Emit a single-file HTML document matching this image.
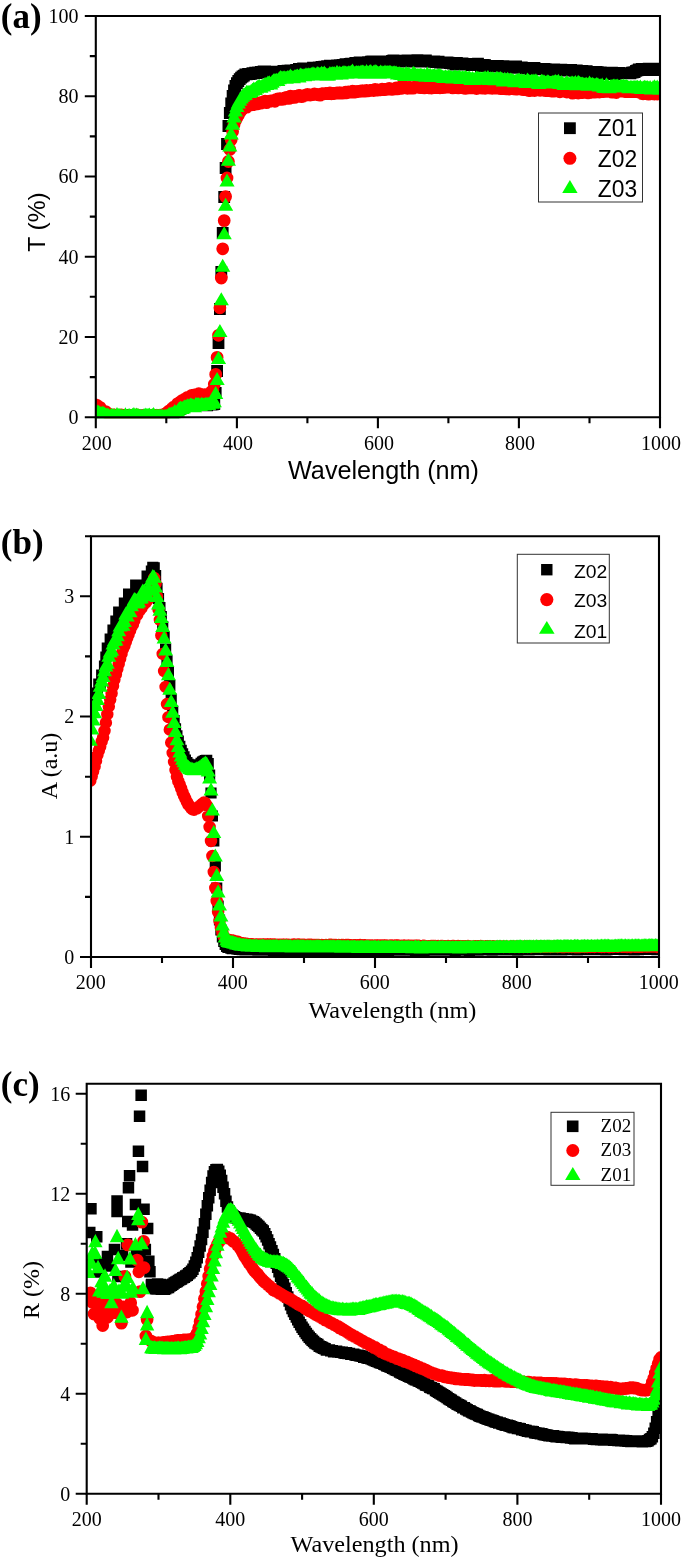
<!DOCTYPE html>
<html><head><meta charset="utf-8"><title>UV-Vis spectra</title>
<style>html,body{margin:0;padding:0;background:#fff}body{width:685px;height:1560px;overflow:hidden;font-family:"Liberation Sans",sans-serif}svg{display:block;will-change:transform}</style>
</head><body>
<svg width="685" height="1560" viewBox="0 0 685 1560">
<rect width="685" height="1560" fill="#fff"/>
<clipPath id="cpa"><rect x="95.8" y="16.0" width="564.2" height="402.2"/></clipPath>
<g clip-path="url(#cpa)">
<path fill="#000" d="M89.9 408.6h11.8v11.8h-11.8zM91.3 408.9h11.8v11.8h-11.8zM92.7 408.8h11.8v11.8h-11.8zM94.1 408.7h11.8v11.8h-11.8zM95.5 409.1h11.8v11.8h-11.8zM97 409.1h11.8v11.8h-11.8zM98.4 409.7h11.8v11.8h-11.8zM99.8 410.4h11.8v11.8h-11.8zM101.2 409.7h11.8v11.8h-11.8zM102.6 409.8h11.8v11.8h-11.8zM104 410.3h11.8v11.8h-11.8zM105.4 410.3h11.8v11.8h-11.8zM106.8 410.1h11.8v11.8h-11.8zM108.2 409.7h11.8v11.8h-11.8zM109.6 410.1h11.8v11.8h-11.8zM111.1 410.4h11.8v11.8h-11.8zM112.5 409.5h11.8v11.8h-11.8zM113.9 409.9h11.8v11.8h-11.8zM115.3 409.2h11.8v11.8h-11.8zM116.7 409.5h11.8v11.8h-11.8zM118.1 409.3h11.8v11.8h-11.8zM119.5 410h11.8v11.8h-11.8zM120.9 409.5h11.8v11.8h-11.8zM122.3 410.2h11.8v11.8h-11.8zM123.8 410.2h11.8v11.8h-11.8zM125.2 410h11.8v11.8h-11.8zM126.6 409h11.8v11.8h-11.8zM128 409.9h11.8v11.8h-11.8zM129.4 410.1h11.8v11.8h-11.8zM130.8 410.2h11.8v11.8h-11.8zM132.2 409.4h11.8v11.8h-11.8zM133.6 409.9h11.8v11.8h-11.8zM135 409.7h11.8v11.8h-11.8zM136.4 409.7h11.8v11.8h-11.8zM137.9 410.6h11.8v11.8h-11.8zM139.3 409.7h11.8v11.8h-11.8zM140.7 410.1h11.8v11.8h-11.8zM142.1 410.5h11.8v11.8h-11.8zM143.5 409.8h11.8v11.8h-11.8zM144.9 410h11.8v11.8h-11.8zM146.3 410.1h11.8v11.8h-11.8zM147.7 410.1h11.8v11.8h-11.8zM149.1 409.5h11.8v11.8h-11.8zM150.6 410.1h11.8v11.8h-11.8zM152 410.7h11.8v11.8h-11.8zM153.4 409.4h11.8v11.8h-11.8zM154.8 410.5h11.8v11.8h-11.8zM156.2 410.2h11.8v11.8h-11.8zM157.6 409.8h11.8v11.8h-11.8zM159 411h11.8v11.8h-11.8zM160.4 410.4h11.8v11.8h-11.8zM161.8 409.2h11.8v11.8h-11.8zM163.2 409.2h11.8v11.8h-11.8zM164.7 408.6h11.8v11.8h-11.8zM166.1 407.5h11.8v11.8h-11.8zM167.5 407.2h11.8v11.8h-11.8zM168.9 406.1h11.8v11.8h-11.8zM170.3 405.5h11.8v11.8h-11.8zM171.7 405h11.8v11.8h-11.8zM173.1 403.3h11.8v11.8h-11.8zM174.5 403h11.8v11.8h-11.8zM175.9 402h11.8v11.8h-11.8zM177.4 401.6h11.8v11.8h-11.8zM178.8 400.3h11.8v11.8h-11.8zM180.2 400h11.8v11.8h-11.8zM181.6 399.7h11.8v11.8h-11.8zM183 399.9h11.8v11.8h-11.8zM184.4 399.7h11.8v11.8h-11.8zM185.8 398.3h11.8v11.8h-11.8zM187.2 398.4h11.8v11.8h-11.8zM188.6 399h11.8v11.8h-11.8zM190 397.8h11.8v11.8h-11.8zM191.5 398.5h11.8v11.8h-11.8zM192.9 398.7h11.8v11.8h-11.8zM194.3 399.3h11.8v11.8h-11.8zM195.7 399h11.8v11.8h-11.8zM197.1 398.6h11.8v11.8h-11.8zM198.5 398.5h11.8v11.8h-11.8zM199.9 398.6h11.8v11.8h-11.8zM201.3 399.4h11.8v11.8h-11.8zM202.7 398.5h11.8v11.8h-11.8zM204.2 398.4h11.8v11.8h-11.8zM205.6 398.7h11.8v11.8h-11.8zM207 398.4h11.8v11.8h-11.8zM208.4 398.1h11.8v11.8h-11.8zM209.8 387.1h11.8v11.8h-11.8zM211.2 365.1h11.8v11.8h-11.8zM212.6 337.1h11.8v11.8h-11.8zM214 303.1h11.8v11.8h-11.8zM215.4 266.1h11.8v11.8h-11.8zM216.8 227.1h11.8v11.8h-11.8zM218.3 191.1h11.8v11.8h-11.8zM219.7 162.1h11.8v11.8h-11.8zM221.1 138.1h11.8v11.8h-11.8zM222.5 120.1h11.8v11.8h-11.8zM223.9 107.1h11.8v11.8h-11.8zM225.3 97.6h11.8v11.8h-11.8zM226.7 90.1h11.8v11.8h-11.8zM228.1 84.6h11.8v11.8h-11.8zM229.5 80.1h11.8v11.8h-11.8zM231 77.3h11.8v11.8h-11.8zM232.4 75.1h11.8v11.8h-11.8zM233.8 73.3h11.8v11.8h-11.8zM235.2 71.8h11.8v11.8h-11.8zM236.6 70.6h11.8v11.8h-11.8zM238 69.7h11.8v11.8h-11.8zM239.4 68.5h11.8v11.8h-11.8zM240.8 68.5h11.8v11.8h-11.8zM242.2 67.9h11.8v11.8h-11.8zM243.6 68.3h11.8v11.8h-11.8zM245.1 67.9h11.8v11.8h-11.8zM246.5 67.3h11.8v11.8h-11.8zM247.9 67.4h11.8v11.8h-11.8zM249.3 66.8h11.8v11.8h-11.8zM250.7 67.3h11.8v11.8h-11.8zM252.1 66.6h11.8v11.8h-11.8zM253.5 66.8h11.8v11.8h-11.8zM254.9 65.9h11.8v11.8h-11.8zM256.3 66.5h11.8v11.8h-11.8zM257.7 65.6h11.8v11.8h-11.8zM259.2 65.4h11.8v11.8h-11.8zM260.6 66.1h11.8v11.8h-11.8zM262 65.8h11.8v11.8h-11.8zM263.4 66.2h11.8v11.8h-11.8zM264.8 67.1h11.8v11.8h-11.8zM266.2 65.7h11.8v11.8h-11.8zM267.6 65.8h11.8v11.8h-11.8zM269 66.1h11.8v11.8h-11.8zM270.4 66.2h11.8v11.8h-11.8zM271.9 65.8h11.8v11.8h-11.8zM273.3 65.7h11.8v11.8h-11.8zM274.7 66.1h11.8v11.8h-11.8zM276.1 65.9h11.8v11.8h-11.8zM277.5 65.1h11.8v11.8h-11.8zM278.9 65.4h11.8v11.8h-11.8zM280.3 65.4h11.8v11.8h-11.8zM281.7 64.7h11.8v11.8h-11.8zM283.1 65.2h11.8v11.8h-11.8zM284.5 64.5h11.8v11.8h-11.8zM286 65.2h11.8v11.8h-11.8zM287.4 64.7h11.8v11.8h-11.8zM288.8 64.5h11.8v11.8h-11.8zM290.2 64.1h11.8v11.8h-11.8zM291.6 64.1h11.8v11.8h-11.8zM293 63.1h11.8v11.8h-11.8zM294.4 63.4h11.8v11.8h-11.8zM295.8 63.9h11.8v11.8h-11.8zM297.2 62.6h11.8v11.8h-11.8zM298.7 63.8h11.8v11.8h-11.8zM300.1 62.5h11.8v11.8h-11.8zM301.5 63.4h11.8v11.8h-11.8zM302.9 62.5h11.8v11.8h-11.8zM304.3 63.1h11.8v11.8h-11.8zM305.7 62.6h11.8v11.8h-11.8zM307.1 61.7h11.8v11.8h-11.8zM308.5 62.8h11.8v11.8h-11.8zM309.9 62.7h11.8v11.8h-11.8zM311.3 61.8h11.8v11.8h-11.8zM312.8 61.6h11.8v11.8h-11.8zM314.2 61.5h11.8v11.8h-11.8zM315.6 60.9h11.8v11.8h-11.8zM317 61.7h11.8v11.8h-11.8zM318.4 60.8h11.8v11.8h-11.8zM319.8 60.8h11.8v11.8h-11.8zM321.2 60.3h11.8v11.8h-11.8zM322.6 60.3h11.8v11.8h-11.8zM324 59.8h11.8v11.8h-11.8zM325.5 60.8h11.8v11.8h-11.8zM326.9 60h11.8v11.8h-11.8zM328.3 60.4h11.8v11.8h-11.8zM329.7 59.8h11.8v11.8h-11.8zM331.1 59.4h11.8v11.8h-11.8zM332.5 59.4h11.8v11.8h-11.8zM333.9 59.2h11.8v11.8h-11.8zM335.3 59.3h11.8v11.8h-11.8zM336.7 59h11.8v11.8h-11.8zM338.1 58.9h11.8v11.8h-11.8zM339.6 58.2h11.8v11.8h-11.8zM341 58.3h11.8v11.8h-11.8zM342.4 59.3h11.8v11.8h-11.8zM343.8 58.1h11.8v11.8h-11.8zM345.2 57.8h11.8v11.8h-11.8zM346.6 58.2h11.8v11.8h-11.8zM348 58.6h11.8v11.8h-11.8zM349.4 57.1h11.8v11.8h-11.8zM350.8 57.6h11.8v11.8h-11.8zM352.3 57.2h11.8v11.8h-11.8zM353.7 56.6h11.8v11.8h-11.8zM355.1 57.5h11.8v11.8h-11.8zM356.5 57.1h11.8v11.8h-11.8zM357.9 57h11.8v11.8h-11.8zM359.3 56.5h11.8v11.8h-11.8zM360.7 56.9h11.8v11.8h-11.8zM362.1 56.3h11.8v11.8h-11.8zM363.5 56.4h11.8v11.8h-11.8zM364.9 55.8h11.8v11.8h-11.8zM366.4 55.6h11.8v11.8h-11.8zM367.8 56.7h11.8v11.8h-11.8zM369.2 55.8h11.8v11.8h-11.8zM370.6 56h11.8v11.8h-11.8zM372 55.8h11.8v11.8h-11.8zM373.4 55.6h11.8v11.8h-11.8zM374.8 55.5h11.8v11.8h-11.8zM376.2 55.9h11.8v11.8h-11.8zM377.6 55.5h11.8v11.8h-11.8zM379.1 55.5h11.8v11.8h-11.8zM380.5 55.5h11.8v11.8h-11.8zM381.9 56h11.8v11.8h-11.8zM383.3 55.7h11.8v11.8h-11.8zM384.7 55.5h11.8v11.8h-11.8zM386.1 55.1h11.8v11.8h-11.8zM387.5 54.6h11.8v11.8h-11.8zM388.9 55.6h11.8v11.8h-11.8zM390.3 55.6h11.8v11.8h-11.8zM391.7 55.1h11.8v11.8h-11.8zM393.2 55.3h11.8v11.8h-11.8zM394.6 55.4h11.8v11.8h-11.8zM396 55.4h11.8v11.8h-11.8zM397.4 55.4h11.8v11.8h-11.8zM398.8 54.8h11.8v11.8h-11.8zM400.2 55.6h11.8v11.8h-11.8zM401.6 54.4h11.8v11.8h-11.8zM403 55.3h11.8v11.8h-11.8zM404.4 55.1h11.8v11.8h-11.8zM405.9 55.3h11.8v11.8h-11.8zM407.3 55.7h11.8v11.8h-11.8zM408.7 55.6h11.8v11.8h-11.8zM410.1 54.4h11.8v11.8h-11.8zM411.5 54.2h11.8v11.8h-11.8zM412.9 55.4h11.8v11.8h-11.8zM414.3 54.6h11.8v11.8h-11.8zM415.7 55.1h11.8v11.8h-11.8zM417.1 55.6h11.8v11.8h-11.8zM418.5 54.6h11.8v11.8h-11.8zM420 54.5h11.8v11.8h-11.8zM421.4 55.6h11.8v11.8h-11.8zM422.8 55.7h11.8v11.8h-11.8zM424.2 55.6h11.8v11.8h-11.8zM425.6 55.9h11.8v11.8h-11.8zM427 55.6h11.8v11.8h-11.8zM428.4 55.4h11.8v11.8h-11.8zM429.8 56.1h11.8v11.8h-11.8zM431.2 55.9h11.8v11.8h-11.8zM432.7 55.7h11.8v11.8h-11.8zM434.1 56.8h11.8v11.8h-11.8zM435.5 56.6h11.8v11.8h-11.8zM436.9 56.9h11.8v11.8h-11.8zM438.3 56.4h11.8v11.8h-11.8zM439.7 56.6h11.8v11.8h-11.8zM441.1 56.6h11.8v11.8h-11.8zM442.5 56.7h11.8v11.8h-11.8zM443.9 57.3h11.8v11.8h-11.8zM445.3 57h11.8v11.8h-11.8zM446.8 57.6h11.8v11.8h-11.8zM448.2 57.7h11.8v11.8h-11.8zM449.6 58.6h11.8v11.8h-11.8zM451 57.1h11.8v11.8h-11.8zM452.4 58.3h11.8v11.8h-11.8zM453.8 57.9h11.8v11.8h-11.8zM455.2 58.1h11.8v11.8h-11.8zM456.6 57.5h11.8v11.8h-11.8zM458 58.1h11.8v11.8h-11.8zM459.5 58.7h11.8v11.8h-11.8zM460.9 58.4h11.8v11.8h-11.8zM462.3 58.6h11.8v11.8h-11.8zM463.7 58.5h11.8v11.8h-11.8zM465.1 59.3h11.8v11.8h-11.8zM466.5 58.9h11.8v11.8h-11.8zM467.9 58h11.8v11.8h-11.8zM469.3 58.8h11.8v11.8h-11.8zM470.7 58.3h11.8v11.8h-11.8zM472.1 57.8h11.8v11.8h-11.8zM473.6 59.1h11.8v11.8h-11.8zM475 60.1h11.8v11.8h-11.8zM476.4 59.6h11.8v11.8h-11.8zM477.8 59.1h11.8v11.8h-11.8zM479.2 59.3h11.8v11.8h-11.8zM480.6 60.3h11.8v11.8h-11.8zM482 60h11.8v11.8h-11.8zM483.4 60h11.8v11.8h-11.8zM484.8 60.1h11.8v11.8h-11.8zM486.3 60.2h11.8v11.8h-11.8zM487.7 60.6h11.8v11.8h-11.8zM489.1 60.6h11.8v11.8h-11.8zM490.5 60.5h11.8v11.8h-11.8zM491.9 60.1h11.8v11.8h-11.8zM493.3 60.8h11.8v11.8h-11.8zM494.7 60.4h11.8v11.8h-11.8zM496.1 61.3h11.8v11.8h-11.8zM497.5 60.3h11.8v11.8h-11.8zM498.9 60.9h11.8v11.8h-11.8zM500.4 61h11.8v11.8h-11.8zM501.8 60.5h11.8v11.8h-11.8zM503.2 62h11.8v11.8h-11.8zM504.6 61.9h11.8v11.8h-11.8zM506 61.2h11.8v11.8h-11.8zM507.4 61.8h11.8v11.8h-11.8zM508.8 61.7h11.8v11.8h-11.8zM510.2 60.5h11.8v11.8h-11.8zM511.6 61.8h11.8v11.8h-11.8zM513.1 61.8h11.8v11.8h-11.8zM514.5 61.9h11.8v11.8h-11.8zM515.9 61.5h11.8v11.8h-11.8zM517.3 61.9h11.8v11.8h-11.8zM518.7 62h11.8v11.8h-11.8zM520.1 62.7h11.8v11.8h-11.8zM521.5 62.4h11.8v11.8h-11.8zM522.9 62.4h11.8v11.8h-11.8zM524.3 63.1h11.8v11.8h-11.8zM525.7 62.3h11.8v11.8h-11.8zM527.2 62.4h11.8v11.8h-11.8zM528.6 61.9h11.8v11.8h-11.8zM530 63.5h11.8v11.8h-11.8zM531.4 63.3h11.8v11.8h-11.8zM532.8 63.4h11.8v11.8h-11.8zM534.2 63.3h11.8v11.8h-11.8zM535.6 63.2h11.8v11.8h-11.8zM537 63.3h11.8v11.8h-11.8zM538.4 63.1h11.8v11.8h-11.8zM539.8 63.3h11.8v11.8h-11.8zM541.3 63.4h11.8v11.8h-11.8zM542.7 64.2h11.8v11.8h-11.8zM544.1 63.8h11.8v11.8h-11.8zM545.5 63.6h11.8v11.8h-11.8zM546.9 63.5h11.8v11.8h-11.8zM548.3 63.5h11.8v11.8h-11.8zM549.7 64.6h11.8v11.8h-11.8zM551.1 64.2h11.8v11.8h-11.8zM552.5 64h11.8v11.8h-11.8zM554 63.9h11.8v11.8h-11.8zM555.4 63.7h11.8v11.8h-11.8zM556.8 64.2h11.8v11.8h-11.8zM558.2 64.7h11.8v11.8h-11.8zM559.6 64.2h11.8v11.8h-11.8zM561 64.3h11.8v11.8h-11.8zM562.4 64.4h11.8v11.8h-11.8zM563.8 64.6h11.8v11.8h-11.8zM565.2 64h11.8v11.8h-11.8zM566.6 64.6h11.8v11.8h-11.8zM568.1 64.4h11.8v11.8h-11.8zM569.5 65.3h11.8v11.8h-11.8zM570.9 64.6h11.8v11.8h-11.8zM572.3 65.3h11.8v11.8h-11.8zM573.7 65.9h11.8v11.8h-11.8zM575.1 65.1h11.8v11.8h-11.8zM576.5 65.1h11.8v11.8h-11.8zM577.9 65.6h11.8v11.8h-11.8zM579.3 65.6h11.8v11.8h-11.8zM580.8 65.3h11.8v11.8h-11.8zM582.2 66.1h11.8v11.8h-11.8zM583.6 66.9h11.8v11.8h-11.8zM585 66h11.8v11.8h-11.8zM586.4 66.2h11.8v11.8h-11.8zM587.8 65.9h11.8v11.8h-11.8zM589.2 66.7h11.8v11.8h-11.8zM590.6 66.1h11.8v11.8h-11.8zM592 66.3h11.8v11.8h-11.8zM593.4 67.5h11.8v11.8h-11.8zM594.9 66.6h11.8v11.8h-11.8zM596.3 67.6h11.8v11.8h-11.8zM597.7 67.9h11.8v11.8h-11.8zM599.1 67.4h11.8v11.8h-11.8zM600.5 67.6h11.8v11.8h-11.8zM601.9 68.2h11.8v11.8h-11.8zM603.3 67.3h11.8v11.8h-11.8zM604.7 67.1h11.8v11.8h-11.8zM606.1 66.8h11.8v11.8h-11.8zM607.6 67.4h11.8v11.8h-11.8zM609 68.1h11.8v11.8h-11.8zM610.4 67.8h11.8v11.8h-11.8zM611.8 67h11.8v11.8h-11.8zM613.2 67h11.8v11.8h-11.8zM614.6 67.2h11.8v11.8h-11.8zM616 67.5h11.8v11.8h-11.8zM617.4 67.3h11.8v11.8h-11.8zM618.8 67.5h11.8v11.8h-11.8zM620.2 67.5h11.8v11.8h-11.8zM621.7 67.2h11.8v11.8h-11.8zM623.1 67.3h11.8v11.8h-11.8zM624.5 67.4h11.8v11.8h-11.8zM625.9 66.8h11.8v11.8h-11.8zM627.3 66.4h11.8v11.8h-11.8zM628.7 66.2h11.8v11.8h-11.8zM630.1 65h11.8v11.8h-11.8zM631.5 64.5h11.8v11.8h-11.8zM632.9 63.5h11.8v11.8h-11.8zM634.4 64.2h11.8v11.8h-11.8zM635.8 63h11.8v11.8h-11.8zM637.2 63.2h11.8v11.8h-11.8zM638.6 64.1h11.8v11.8h-11.8zM640 64h11.8v11.8h-11.8zM641.4 63.5h11.8v11.8h-11.8zM642.8 62.7h11.8v11.8h-11.8zM644.2 63.3h11.8v11.8h-11.8zM645.6 63.1h11.8v11.8h-11.8zM647 63.6h11.8v11.8h-11.8zM648.5 64.3h11.8v11.8h-11.8zM649.9 63.3h11.8v11.8h-11.8zM651.3 62.9h11.8v11.8h-11.8zM652.7 62.7h11.8v11.8h-11.8zM654.1 63.2h11.8v11.8h-11.8z"/>
<path fill="none" stroke="#ff0000" stroke-width="12.8" stroke-linecap="round" d="M95.8 404.9h0M97.2 405.5h0M98.6 407.1h0M100 407.4h0M101.4 409.5h0M102.9 410.5h0M104.3 411.4h0M105.7 411.6h0M107.1 413h0M108.5 413.8h0M109.9 414.6h0M111.3 415.2h0M112.7 414.9h0M114.1 414.8h0M115.5 416h0M117 415.5h0M118.4 415.8h0M119.8 416.2h0M121.2 414.8h0M122.6 415.3h0M124 415.9h0M125.4 416h0M126.8 415.6h0M128.2 416.3h0M129.7 416h0M131.1 415.3h0M132.5 415.4h0M133.9 416.3h0M135.3 416.1h0M136.7 415h0M138.1 416.6h0M139.5 416.2h0M140.9 416.6h0M142.3 415.8h0M143.8 415.8h0M145.2 415.4h0M146.6 417.2h0M148 415.9h0M149.4 416.8h0M150.8 415.7h0M152.2 416.1h0M153.6 415.2h0M155 415.8h0M156.5 416.5h0M157.9 415.4h0M159.3 416.5h0M160.7 416.1h0M162.1 415h0M163.5 414.6h0M164.9 413.9h0M166.3 413.3h0M167.7 412.1h0M169.1 410.9h0M170.6 410h0M172 408.5h0M173.4 407.2h0M174.8 406.7h0M176.2 406h0M177.6 403.6h0M179 403.2h0M180.4 401.9h0M181.8 400.7h0M183.3 400.7h0M184.7 399.1h0M186.1 399.3h0M187.5 397.4h0M188.9 397.2h0M190.3 396.3h0M191.7 395.4h0M193.1 395.5h0M194.5 394.8h0M195.9 394.9h0M197.4 394.3h0M198.8 393.7h0M200.2 394.2h0M201.6 394.6h0M203 395.3h0M204.4 394.6h0M205.8 395.2h0M207.2 394.4h0M208.6 395.1h0M210.1 393.4h0M211.5 391.5h0M212.9 390h0M214.3 384.3h0M215.7 374.4h0M217.1 357.4h0M218.5 335.3h0M219.9 307.8h0M221.3 278h0M222.7 248.8h0M224.2 220.6h0M225.6 196.6h0M227 178h0M228.4 161.5h0M229.8 149.5h0M231.2 139.6h0M232.6 131.5h0M234 125h0M235.4 121h0M236.9 118h0M238.3 115.2h0M239.7 112.8h0M241.1 110.8h0M242.5 109.2h0M243.9 108h0M245.3 107h0M246.7 107.1h0M248.1 105.3h0M249.5 105.1h0M251 104.9h0M252.4 104.3h0M253.8 104.7h0M255.2 103.8h0M256.6 103.5h0M258 103.8h0M259.4 102.8h0M260.8 103.1h0M262.2 102.1h0M263.6 101.7h0M265.1 101.1h0M266.5 102.7h0M267.9 101.3h0M269.3 101.4h0M270.7 101h0M272.1 100.9h0M273.5 100.6h0M274.9 101.3h0M276.3 99.5h0M277.8 99h0M279.2 99h0M280.6 98.6h0M282 99.4h0M283.4 99.2h0M284.8 98h0M286.2 97.5h0M287.6 97.8h0M289 98.4h0M290.4 96.1h0M291.9 97.6h0M293.3 96.6h0M294.7 97.4h0M296.1 96.2h0M297.5 96.4h0M298.9 95.5h0M300.3 95.6h0M301.7 96.6h0M303.1 96.2h0M304.6 95.4h0M306 95h0M307.4 94.3h0M308.8 94.9h0M310.2 95h0M311.6 94.8h0M313 94.7h0M314.4 94h0M315.8 94.4h0M317.2 94.3h0M318.7 94.9h0M320.1 95.1h0M321.5 94h0M322.9 93.6h0M324.3 93.8h0M325.7 93.5h0M327.1 93.3h0M328.5 93.6h0M329.9 93h0M331.4 93.8h0M332.8 93.4h0M334.2 93.5h0M335.6 93.3h0M337 93h0M338.4 92.8h0M339.8 93.1h0M341.2 92.9h0M342.6 93.2h0M344 92.9h0M345.5 92.2h0M346.9 92.8h0M348.3 91.9h0M349.7 92.2h0M351.1 92.2h0M352.5 91.2h0M353.9 92.1h0M355.3 92h0M356.7 91.7h0M358.2 91.5h0M359.6 91.4h0M361 90.9h0M362.4 91.2h0M363.8 90.9h0M365.2 91.1h0M366.6 90.3h0M368 90.9h0M369.4 90.7h0M370.8 90.4h0M372.3 90.1h0M373.7 90.5h0M375.1 89.3h0M376.5 90.2h0M377.9 90h0M379.3 89.9h0M380.7 89.8h0M382.1 89.2h0M383.5 89.3h0M385 89.6h0M386.4 89.4h0M387.8 89.2h0M389.2 88.3h0M390.6 89.2h0M392 89.4h0M393.4 89.2h0M394.8 88.8h0M396.2 87.8h0M397.6 88.9h0M399.1 88.3h0M400.5 87h0M401.9 88.3h0M403.3 87.3h0M404.7 87.2h0M406.1 87.4h0M407.5 88.3h0M408.9 87.3h0M410.3 87.5h0M411.8 88.2h0M413.2 88.1h0M414.6 87.2h0M416 87.2h0M417.4 86.7h0M418.8 87h0M420.2 87.6h0M421.6 87.6h0M423 87.4h0M424.4 87.9h0M425.9 87h0M427.3 87.4h0M428.7 87.8h0M430.1 87.7h0M431.5 88h0M432.9 87.7h0M434.3 87.3h0M435.7 87.7h0M437.1 87h0M438.6 86.7h0M440 87.8h0M441.4 87.5h0M442.8 87.7h0M444.2 86.7h0M445.6 87.3h0M447 87.2h0M448.4 87.1h0M449.8 86.4h0M451.2 87.3h0M452.7 87.9h0M454.1 87.7h0M455.5 87.2h0M456.9 87.5h0M458.3 87.9h0M459.7 86.1h0M461.1 87.4h0M462.5 87.8h0M463.9 87.8h0M465.4 88.4h0M466.8 88.1h0M468.2 87.7h0M469.6 87.7h0M471 87.9h0M472.4 87.2h0M473.8 87.5h0M475.2 88h0M476.6 88.5h0M478 87.4h0M479.5 87.5h0M480.9 87.6h0M482.3 88.2h0M483.7 87.5h0M485.1 88.3h0M486.5 87.1h0M487.9 87.5h0M489.3 87.5h0M490.7 88.1h0M492.2 88.3h0M493.6 87h0M495 87.4h0M496.4 88.1h0M497.8 87.6h0M499.2 87.3h0M500.6 88.6h0M502 88.4h0M503.4 88.5h0M504.8 88h0M506.3 88.9h0M507.7 88.3h0M509.1 89h0M510.5 88.1h0M511.9 88.2h0M513.3 88.8h0M514.7 88.4h0M516.1 89.1h0M517.5 89h0M519 88.5h0M520.4 89h0M521.8 88.9h0M523.2 89.6h0M524.6 88.9h0M526 89.1h0M527.4 90h0M528.8 90.5h0M530.2 90.5h0M531.6 89.6h0M533.1 89.8h0M534.5 90.5h0M535.9 89.8h0M537.3 89.4h0M538.7 90h0M540.1 90.3h0M541.5 89.7h0M542.9 89.4h0M544.3 89.5h0M545.7 90.7h0M547.2 90h0M548.6 90.4h0M550 90.7h0M551.4 91h0M552.8 90.6h0M554.2 91.1h0M555.6 90.5h0M557 90.9h0M558.4 90.6h0M559.9 91.8h0M561.3 91.3h0M562.7 91.1h0M564.1 91.3h0M565.5 91.5h0M566.9 92h0M568.3 90.9h0M569.7 91.3h0M571.1 91.7h0M572.5 93.2h0M574 92.4h0M575.4 91.9h0M576.8 92.3h0M578.2 93h0M579.6 91.9h0M581 91.8h0M582.4 92.6h0M583.8 92.2h0M585.2 92.3h0M586.7 91.7h0M588.1 92.9h0M589.5 92.7h0M590.9 92.1h0M592.3 92.1h0M593.7 90.8h0M595.1 92.1h0M596.5 91.6h0M597.9 91.9h0M599.3 92h0M600.8 91.4h0M602.2 90.7h0M603.6 91.7h0M605 91.2h0M606.4 91.4h0M607.8 91.2h0M609.2 91.3h0M610.6 90.3h0M612 92.1h0M613.5 91.6h0M614.9 92.1h0M616.3 92.5h0M617.7 91.5h0M619.1 90.6h0M620.5 91.1h0M621.9 90.9h0M623.3 91.2h0M624.7 91.5h0M626.1 90.5h0M627.6 91.7h0M629 90.7h0M630.4 91.7h0M631.8 91.5h0M633.2 91.5h0M634.6 91.7h0M636 91.6h0M637.4 91.8h0M638.8 91.4h0M640.3 92.4h0M641.7 93.5h0M643.1 93.8h0M644.5 93.6h0M645.9 93.4h0M647.3 92.9h0M648.7 94.2h0M650.1 93.6h0M651.5 93.7h0M652.9 93.8h0M654.4 94h0M655.8 93.8h0M657.2 94h0M658.6 93.5h0M660 93.8h0"/>
<path fill="#00ff00" d="M95.8 405.7l7.6 13h-15.2zM97.2 404.5l7.6 13h-15.2zM98.6 404.8l7.6 13h-15.2zM100 405.8l7.6 13h-15.2zM101.4 406.3l7.6 13h-15.2zM102.9 405.4l7.6 13h-15.2zM104.3 406.4l7.6 13h-15.2zM105.7 407.6l7.6 13h-15.2zM107.1 407.6l7.6 13h-15.2zM108.5 407.9l7.6 13h-15.2zM109.9 409.2l7.6 13h-15.2zM111.3 407.8l7.6 13h-15.2zM112.7 408.4l7.6 13h-15.2zM114.1 408l7.6 13h-15.2zM115.5 409.4l7.6 13h-15.2zM117 407l7.6 13h-15.2zM118.4 407.9l7.6 13h-15.2zM119.8 408l7.6 13h-15.2zM121.2 408.8l7.6 13h-15.2zM122.6 408.8l7.6 13h-15.2zM124 409.4l7.6 13h-15.2zM125.4 407.3l7.6 13h-15.2zM126.8 408.9l7.6 13h-15.2zM128.2 408.2l7.6 13h-15.2zM129.7 408l7.6 13h-15.2zM131.1 408.8l7.6 13h-15.2zM132.5 407.8l7.6 13h-15.2zM133.9 407l7.6 13h-15.2zM135.3 408.2l7.6 13h-15.2zM136.7 407.4l7.6 13h-15.2zM138.1 408l7.6 13h-15.2zM139.5 408.7l7.6 13h-15.2zM140.9 408.7l7.6 13h-15.2zM142.3 409.6l7.6 13h-15.2zM143.8 408.3l7.6 13h-15.2zM145.2 407.4l7.6 13h-15.2zM146.6 408l7.6 13h-15.2zM148 407.8l7.6 13h-15.2zM149.4 407.6l7.6 13h-15.2zM150.8 408.8l7.6 13h-15.2zM152.2 408l7.6 13h-15.2zM153.6 407.1l7.6 13h-15.2zM155 409l7.6 13h-15.2zM156.5 408.4l7.6 13h-15.2zM157.9 408.7l7.6 13h-15.2zM159.3 408.6l7.6 13h-15.2zM160.7 408.9l7.6 13h-15.2zM162.1 408.5l7.6 13h-15.2zM163.5 409.4l7.6 13h-15.2zM164.9 408.8l7.6 13h-15.2zM166.3 408.8l7.6 13h-15.2zM167.7 408.5l7.6 13h-15.2zM169.1 406.7l7.6 13h-15.2zM170.6 407l7.6 13h-15.2zM172 406.3l7.6 13h-15.2zM173.4 406l7.6 13h-15.2zM174.8 404.1l7.6 13h-15.2zM176.2 405.3l7.6 13h-15.2zM177.6 403.4l7.6 13h-15.2zM179 401.7l7.6 13h-15.2zM180.4 400.6l7.6 13h-15.2zM181.8 400.9l7.6 13h-15.2zM183.3 400.3l7.6 13h-15.2zM184.7 399.2l7.6 13h-15.2zM186.1 399.2l7.6 13h-15.2zM187.5 398.2l7.6 13h-15.2zM188.9 398.7l7.6 13h-15.2zM190.3 397.5l7.6 13h-15.2zM191.7 397.7l7.6 13h-15.2zM193.1 398.2l7.6 13h-15.2zM194.5 399.3l7.6 13h-15.2zM195.9 396.8l7.6 13h-15.2zM197.4 397.2l7.6 13h-15.2zM198.8 396.9l7.6 13h-15.2zM200.2 398l7.6 13h-15.2zM201.6 396.7l7.6 13h-15.2zM203 397.2l7.6 13h-15.2zM204.4 397.5l7.6 13h-15.2zM205.8 396.8l7.6 13h-15.2zM207.2 396.8l7.6 13h-15.2zM208.6 397.1l7.6 13h-15.2zM210.1 395.7l7.6 13h-15.2zM211.5 395.8l7.6 13h-15.2zM212.9 395.5l7.6 13h-15.2zM214.3 394.3l7.6 13h-15.2zM215.7 386l7.6 13h-15.2zM217.1 372l7.6 13h-15.2zM218.5 350.9l7.6 13h-15.2zM219.9 323.9l7.6 13h-15.2zM221.3 292.3l7.6 13h-15.2zM222.7 258.8l7.6 13h-15.2zM224.2 226.2l7.6 13h-15.2zM225.6 197.7l7.6 13h-15.2zM227 173.6l7.6 13h-15.2zM228.4 152.8l7.6 13h-15.2zM229.8 138.6l7.6 13h-15.2zM231.2 126.5l7.6 13h-15.2zM232.6 116.7l7.6 13h-15.2zM234 109.5l7.6 13h-15.2zM235.4 103.5l7.6 13h-15.2zM236.9 99l7.6 13h-15.2zM238.3 95.5l7.6 13h-15.2zM239.7 92.7l7.6 13h-15.2zM241.1 90.5l7.6 13h-15.2zM242.5 88.7l7.6 13h-15.2zM243.9 87.3l7.6 13h-15.2zM245.3 86.7l7.6 13h-15.2zM246.7 84.8l7.6 13h-15.2zM248.1 84.8l7.6 13h-15.2zM249.5 84.9l7.6 13h-15.2zM251 84l7.6 13h-15.2zM252.4 82.8l7.6 13h-15.2zM253.8 81.5l7.6 13h-15.2zM255.2 81.9l7.6 13h-15.2zM256.6 80.4l7.6 13h-15.2zM258 79.3l7.6 13h-15.2zM259.4 78.9l7.6 13h-15.2zM260.8 79.8l7.6 13h-15.2zM262.2 78.4l7.6 13h-15.2zM263.6 78.4l7.6 13h-15.2zM265.1 76.7l7.6 13h-15.2zM266.5 77.1l7.6 13h-15.2zM267.9 75.4l7.6 13h-15.2zM269.3 75.2l7.6 13h-15.2zM270.7 76.5l7.6 13h-15.2zM272.1 74.7l7.6 13h-15.2zM273.5 73.3l7.6 13h-15.2zM274.9 73.1l7.6 13h-15.2zM276.3 72.8l7.6 13h-15.2zM277.8 72.9l7.6 13h-15.2zM279.2 71.2l7.6 13h-15.2zM280.6 69.9l7.6 13h-15.2zM282 70.6l7.6 13h-15.2zM283.4 70.5l7.6 13h-15.2zM284.8 70.3l7.6 13h-15.2zM286.2 70.8l7.6 13h-15.2zM287.6 69.9l7.6 13h-15.2zM289 70l7.6 13h-15.2zM290.4 68.5l7.6 13h-15.2zM291.9 69.7l7.6 13h-15.2zM293.3 70.3l7.6 13h-15.2zM294.7 69.2l7.6 13h-15.2zM296.1 68.7l7.6 13h-15.2zM297.5 68.5l7.6 13h-15.2zM298.9 69.5l7.6 13h-15.2zM300.3 67.5l7.6 13h-15.2zM301.7 67.9l7.6 13h-15.2zM303.1 68.2l7.6 13h-15.2zM304.6 68.3l7.6 13h-15.2zM306 67.3l7.6 13h-15.2zM307.4 67.7l7.6 13h-15.2zM308.8 67.2l7.6 13h-15.2zM310.2 67.4l7.6 13h-15.2zM311.6 67.1l7.6 13h-15.2zM313 66.3l7.6 13h-15.2zM314.4 67l7.6 13h-15.2zM315.8 67.5l7.6 13h-15.2zM317.2 66.1l7.6 13h-15.2zM318.7 66.5l7.6 13h-15.2zM320.1 67.1l7.6 13h-15.2zM321.5 65.8l7.6 13h-15.2zM322.9 66.6l7.6 13h-15.2zM324.3 65.6l7.6 13h-15.2zM325.7 67.1l7.6 13h-15.2zM327.1 67.8l7.6 13h-15.2zM328.5 67.5l7.6 13h-15.2zM329.9 65.9l7.6 13h-15.2zM331.4 66.5l7.6 13h-15.2zM332.8 66l7.6 13h-15.2zM334.2 65.9l7.6 13h-15.2zM335.6 66.8l7.6 13h-15.2zM337 64.7l7.6 13h-15.2zM338.4 66.3l7.6 13h-15.2zM339.8 65.5l7.6 13h-15.2zM341.2 66.4l7.6 13h-15.2zM342.6 65.5l7.6 13h-15.2zM344 64.9l7.6 13h-15.2zM345.5 65.5l7.6 13h-15.2zM346.9 65.7l7.6 13h-15.2zM348.3 65.2l7.6 13h-15.2zM349.7 65.5l7.6 13h-15.2zM351.1 64.7l7.6 13h-15.2zM352.5 63.5l7.6 13h-15.2zM353.9 65.6l7.6 13h-15.2zM355.3 65.4l7.6 13h-15.2zM356.7 65l7.6 13h-15.2zM358.2 65l7.6 13h-15.2zM359.6 65.6l7.6 13h-15.2zM361 64.6l7.6 13h-15.2zM362.4 64.4l7.6 13h-15.2zM363.8 64.8l7.6 13h-15.2zM365.2 65.7l7.6 13h-15.2zM366.6 63.9l7.6 13h-15.2zM368 65.7l7.6 13h-15.2zM369.4 64.5l7.6 13h-15.2zM370.8 64.1l7.6 13h-15.2zM372.3 65.8l7.6 13h-15.2zM373.7 64.8l7.6 13h-15.2zM375.1 64l7.6 13h-15.2zM376.5 64.6l7.6 13h-15.2zM377.9 65.6l7.6 13h-15.2zM379.3 65.7l7.6 13h-15.2zM380.7 64.6l7.6 13h-15.2zM382.1 65.2l7.6 13h-15.2zM383.5 65.4l7.6 13h-15.2zM385 64.5l7.6 13h-15.2zM386.4 65.3l7.6 13h-15.2zM387.8 65.1l7.6 13h-15.2zM389.2 64.8l7.6 13h-15.2zM390.6 65l7.6 13h-15.2zM392 65.4l7.6 13h-15.2zM393.4 65.5l7.6 13h-15.2zM394.8 65.2l7.6 13h-15.2zM396.2 65.4l7.6 13h-15.2zM397.6 66.6l7.6 13h-15.2zM399.1 66.1l7.6 13h-15.2zM400.5 66.7l7.6 13h-15.2zM401.9 67l7.6 13h-15.2zM403.3 66.7l7.6 13h-15.2zM404.7 67.9l7.6 13h-15.2zM406.1 65.9l7.6 13h-15.2zM407.5 67.2l7.6 13h-15.2zM408.9 66.5l7.6 13h-15.2zM410.3 68.1l7.6 13h-15.2zM411.8 68.1l7.6 13h-15.2zM413.2 65.7l7.6 13h-15.2zM414.6 66.5l7.6 13h-15.2zM416 67.7l7.6 13h-15.2zM417.4 67.9l7.6 13h-15.2zM418.8 68l7.6 13h-15.2zM420.2 67.5l7.6 13h-15.2zM421.6 68l7.6 13h-15.2zM423 68.3l7.6 13h-15.2zM424.4 67.9l7.6 13h-15.2zM425.9 68.7l7.6 13h-15.2zM427.3 66.5l7.6 13h-15.2zM428.7 68.7l7.6 13h-15.2zM430.1 67.6l7.6 13h-15.2zM431.5 69.1l7.6 13h-15.2zM432.9 68.3l7.6 13h-15.2zM434.3 68l7.6 13h-15.2zM435.7 69l7.6 13h-15.2zM437.1 68.2l7.6 13h-15.2zM438.6 68.2l7.6 13h-15.2zM440 67.9l7.6 13h-15.2zM441.4 69l7.6 13h-15.2zM442.8 69.5l7.6 13h-15.2zM444.2 70l7.6 13h-15.2zM445.6 69.2l7.6 13h-15.2zM447 70.1l7.6 13h-15.2zM448.4 69.5l7.6 13h-15.2zM449.8 69.5l7.6 13h-15.2zM451.2 70.1l7.6 13h-15.2zM452.7 70.5l7.6 13h-15.2zM454.1 69.6l7.6 13h-15.2zM455.5 69.7l7.6 13h-15.2zM456.9 69.9l7.6 13h-15.2zM458.3 70.1l7.6 13h-15.2zM459.7 69.5l7.6 13h-15.2zM461.1 70.9l7.6 13h-15.2zM462.5 70l7.6 13h-15.2zM463.9 70.7l7.6 13h-15.2zM465.4 69.8l7.6 13h-15.2zM466.8 70.7l7.6 13h-15.2zM468.2 70.8l7.6 13h-15.2zM469.6 70.4l7.6 13h-15.2zM471 72.1l7.6 13h-15.2zM472.4 71.1l7.6 13h-15.2zM473.8 72.1l7.6 13h-15.2zM475.2 71.6l7.6 13h-15.2zM476.6 70.6l7.6 13h-15.2zM478 70.8l7.6 13h-15.2zM479.5 71.5l7.6 13h-15.2zM480.9 71.3l7.6 13h-15.2zM482.3 71.4l7.6 13h-15.2zM483.7 71.2l7.6 13h-15.2zM485.1 70.2l7.6 13h-15.2zM486.5 71.4l7.6 13h-15.2zM487.9 70.1l7.6 13h-15.2zM489.3 72l7.6 13h-15.2zM490.7 71.3l7.6 13h-15.2zM492.2 71.3l7.6 13h-15.2zM493.6 71.8l7.6 13h-15.2zM495 72.2l7.6 13h-15.2zM496.4 71.1l7.6 13h-15.2zM497.8 70.9l7.6 13h-15.2zM499.2 71.5l7.6 13h-15.2zM500.6 70.9l7.6 13h-15.2zM502 71.7l7.6 13h-15.2zM503.4 73.6l7.6 13h-15.2zM504.8 71.8l7.6 13h-15.2zM506.3 73l7.6 13h-15.2zM507.7 71.7l7.6 13h-15.2zM509.1 72.9l7.6 13h-15.2zM510.5 72.6l7.6 13h-15.2zM511.9 72.8l7.6 13h-15.2zM513.3 73.4l7.6 13h-15.2zM514.7 74.3l7.6 13h-15.2zM516.1 73.3l7.6 13h-15.2zM517.5 73.3l7.6 13h-15.2zM519 72.6l7.6 13h-15.2zM520.4 73.8l7.6 13h-15.2zM521.8 73.3l7.6 13h-15.2zM523.2 74.1l7.6 13h-15.2zM524.6 73.6l7.6 13h-15.2zM526 74.9l7.6 13h-15.2zM527.4 72.4l7.6 13h-15.2zM528.8 73.6l7.6 13h-15.2zM530.2 74.5l7.6 13h-15.2zM531.6 73.7l7.6 13h-15.2zM533.1 73.5l7.6 13h-15.2zM534.5 73.9l7.6 13h-15.2zM535.9 73.2l7.6 13h-15.2zM537.3 74.4l7.6 13h-15.2zM538.7 76.1l7.6 13h-15.2zM540.1 75.2l7.6 13h-15.2zM541.5 73.7l7.6 13h-15.2zM542.9 74l7.6 13h-15.2zM544.3 74.4l7.6 13h-15.2zM545.7 75.4l7.6 13h-15.2zM547.2 74.2l7.6 13h-15.2zM548.6 74.4l7.6 13h-15.2zM550 75.6l7.6 13h-15.2zM551.4 75.6l7.6 13h-15.2zM552.8 74.8l7.6 13h-15.2zM554.2 74.4l7.6 13h-15.2zM555.6 74.1l7.6 13h-15.2zM557 74.8l7.6 13h-15.2zM558.4 73.8l7.6 13h-15.2zM559.9 76l7.6 13h-15.2zM561.3 75.1l7.6 13h-15.2zM562.7 75.9l7.6 13h-15.2zM564.1 76.9l7.6 13h-15.2zM565.5 76.5l7.6 13h-15.2zM566.9 75l7.6 13h-15.2zM568.3 76.5l7.6 13h-15.2zM569.7 76.7l7.6 13h-15.2zM571.1 75.5l7.6 13h-15.2zM572.5 75.4l7.6 13h-15.2zM574 76.1l7.6 13h-15.2zM575.4 75.1l7.6 13h-15.2zM576.8 77.3l7.6 13h-15.2zM578.2 74.7l7.6 13h-15.2zM579.6 75.7l7.6 13h-15.2zM581 76.4l7.6 13h-15.2zM582.4 76.5l7.6 13h-15.2zM583.8 76.9l7.6 13h-15.2zM585.2 77l7.6 13h-15.2zM586.7 76.8l7.6 13h-15.2zM588.1 77.8l7.6 13h-15.2zM589.5 75.6l7.6 13h-15.2zM590.9 77.2l7.6 13h-15.2zM592.3 76.8l7.6 13h-15.2zM593.7 77.5l7.6 13h-15.2zM595.1 77.7l7.6 13h-15.2zM596.5 77l7.6 13h-15.2zM597.9 77.3l7.6 13h-15.2zM599.3 78.4l7.6 13h-15.2zM600.8 78.2l7.6 13h-15.2zM602.2 77.6l7.6 13h-15.2zM603.6 79.6l7.6 13h-15.2zM605 79.9l7.6 13h-15.2zM606.4 77.3l7.6 13h-15.2zM607.8 78.6l7.6 13h-15.2zM609.2 80.3l7.6 13h-15.2zM610.6 79.2l7.6 13h-15.2zM612 78.8l7.6 13h-15.2zM613.5 78.6l7.6 13h-15.2zM614.9 78.5l7.6 13h-15.2zM616.3 78.8l7.6 13h-15.2zM617.7 78.6l7.6 13h-15.2zM619.1 79.6l7.6 13h-15.2zM620.5 78.9l7.6 13h-15.2zM621.9 78.9l7.6 13h-15.2zM623.3 78.4l7.6 13h-15.2zM624.7 79.3l7.6 13h-15.2zM626.1 78.8l7.6 13h-15.2zM627.6 79.4l7.6 13h-15.2zM629 80.3l7.6 13h-15.2zM630.4 79.9l7.6 13h-15.2zM631.8 80l7.6 13h-15.2zM633.2 80l7.6 13h-15.2zM634.6 79.9l7.6 13h-15.2zM636 79.8l7.6 13h-15.2zM637.4 79.8l7.6 13h-15.2zM638.8 80.6l7.6 13h-15.2zM640.3 79.4l7.6 13h-15.2zM641.7 81.1l7.6 13h-15.2zM643.1 80.3l7.6 13h-15.2zM644.5 79.8l7.6 13h-15.2zM645.9 80.1l7.6 13h-15.2zM647.3 80l7.6 13h-15.2zM648.7 80.7l7.6 13h-15.2zM650.1 80.1l7.6 13h-15.2zM651.5 81.5l7.6 13h-15.2zM652.9 80.2l7.6 13h-15.2zM654.4 79.3l7.6 13h-15.2zM655.8 80.4l7.6 13h-15.2zM657.2 79.6l7.6 13h-15.2zM658.6 81l7.6 13h-15.2zM660 81.8l7.6 13h-15.2z"/>
</g>
<g stroke="#000" stroke-width="2.1" fill="none" stroke-linecap="butt">
<path d="M95.8 15.0V418.2M94.8 417.2H661.0M660.0 418.2V15.0M661.0 16.0H94.8"/>
<path d="M95.8 417.2v11M236.9 417.2v11M377.9 417.2v11M518.9 417.2v11M660 417.2v11M166.3 417.2v6M307.4 417.2v6M448.4 417.2v6M589.5 417.2v6M95.8 417.2h-11M95.8 337h-11M95.8 256.7h-11M95.8 176.5h-11M95.8 96.2h-11M95.8 16h-11M95.8 377.1h-6M95.8 296.8h-6M95.8 216.6h-6M95.8 136.4h-6M95.8 56.1h-6"/></g>
<g font-family="Liberation Serif, serif" font-size="20" fill="#000">
<text x="96.8" y="449.6" text-anchor="middle">200</text>
<text x="237.9" y="449.6" text-anchor="middle">400</text>
<text x="378.9" y="449.6" text-anchor="middle">600</text>
<text x="519.9" y="449.6" text-anchor="middle">800</text>
<text x="661" y="449.6" text-anchor="middle">1000</text>
<text x="78.4" y="424" text-anchor="end">0</text>
<text x="78.4" y="343.8" text-anchor="end">20</text>
<text x="78.4" y="263.5" text-anchor="end">40</text>
<text x="78.4" y="183.3" text-anchor="end">60</text>
<text x="78.4" y="103" text-anchor="end">80</text>
<text x="78.4" y="22.8" text-anchor="end">100</text>
</g>
<rect x="538.5" y="113" width="104" height="89" fill="#fff" stroke="#333" stroke-width="1"/>
<rect x="564" y="122.3" width="11.8" height="11.8" fill="#000"/>
<circle cx="569.9" cy="158.3" r="6.5" fill="#ff0000"/>
<path d="M569.9 180l7.7 13h-15.4z" fill="#00ff00"/>
<g font-family="Liberation Sans, sans-serif" font-size="23" fill="#000"><text x="597.8" y="136.3" textLength="39.3" lengthAdjust="spacingAndGlyphs">Z01</text><text x="597.8" y="166.6" textLength="39.3" lengthAdjust="spacingAndGlyphs">Z02</text><text x="597.8" y="196.6" textLength="39.3" lengthAdjust="spacingAndGlyphs">Z03</text></g>
<text x="288" y="478.8" font-family="Liberation Sans, sans-serif" font-size="25" fill="#000" textLength="191" lengthAdjust="spacingAndGlyphs">Wavelength (nm)</text>
<text transform="translate(44.6,222) rotate(-90)" text-anchor="middle" font-family="Liberation Sans, sans-serif" font-size="24.5" fill="#000">T (%)</text>
<text x="0.8" y="28.2" font-family="Liberation Serif, serif" font-weight="bold" font-size="35" fill="#000">(a)</text>
<clipPath id="cpb"><rect x="91.0" y="536.2" width="568.0" height="421.79999999999995"/></clipPath>
<g clip-path="url(#cpb)">
<path fill="#000" d="M84.7 705.4h11.2v11.2h-11.2zM86.1 705.4h11.2v11.2h-11.2zM87.5 696.4h11.2v11.2h-11.2zM89 696.4h11.2v11.2h-11.2zM90.4 687.4h11.2v11.2h-11.2zM91.8 687.4h11.2v11.2h-11.2zM93.2 678.4h11.2v11.2h-11.2zM94.6 678.4h11.2v11.2h-11.2zM96.1 669.4h11.2v11.2h-11.2zM97.5 669.4h11.2v11.2h-11.2zM98.9 660.4h11.2v11.2h-11.2zM100.3 651.4h11.2v11.2h-11.2zM101.7 642.4h11.2v11.2h-11.2zM103.2 642.4h11.2v11.2h-11.2zM104.6 633.4h11.2v11.2h-11.2zM106 633.4h11.2v11.2h-11.2zM107.4 624.4h11.2v11.2h-11.2zM108.8 624.4h11.2v11.2h-11.2zM110.3 615.4h11.2v11.2h-11.2zM111.7 615.4h11.2v11.2h-11.2zM113.1 606.4h11.2v11.2h-11.2zM114.5 606.4h11.2v11.2h-11.2zM115.9 606.4h11.2v11.2h-11.2zM117.4 606.4h11.2v11.2h-11.2zM118.8 597.4h11.2v11.2h-11.2zM120.2 597.4h11.2v11.2h-11.2zM121.6 597.4h11.2v11.2h-11.2zM123 588.4h11.2v11.2h-11.2zM124.5 588.4h11.2v11.2h-11.2zM125.9 588.4h11.2v11.2h-11.2zM127.3 588.4h11.2v11.2h-11.2zM128.7 588.4h11.2v11.2h-11.2zM130.1 579.4h11.2v11.2h-11.2zM131.6 579.4h11.2v11.2h-11.2zM133 579.4h11.2v11.2h-11.2zM134.4 579.4h11.2v11.2h-11.2zM135.8 579.4h11.2v11.2h-11.2zM137.2 579.4h11.2v11.2h-11.2zM138.7 579.4h11.2v11.2h-11.2zM140.1 579.4h11.2v11.2h-11.2zM141.5 570.4h11.2v11.2h-11.2zM142.9 570.4h11.2v11.2h-11.2zM144.3 570.4h11.2v11.2h-11.2zM145.8 565.6h11.2v11.2h-11.2zM147.2 561.7h11.2v11.2h-11.2zM148.6 562.3h11.2v11.2h-11.2zM150 570.1h11.2v11.2h-11.2zM151.4 582.8h11.2v11.2h-11.2zM152.9 593h11.2v11.2h-11.2zM154.3 602h11.2v11.2h-11.2zM155.7 611h11.2v11.2h-11.2zM157.1 620.9h11.2v11.2h-11.2zM158.5 631.6h11.2v11.2h-11.2zM160 643.5h11.2v11.2h-11.2zM161.4 655.2h11.2v11.2h-11.2zM162.8 667h11.2v11.2h-11.2zM164.2 679.7h11.2v11.2h-11.2zM165.6 693.6h11.2v11.2h-11.2zM167.1 705.4h11.2v11.2h-11.2zM168.5 715h11.2v11.2h-11.2zM169.9 723.2h11.2v11.2h-11.2zM171.3 730.2h11.2v11.2h-11.2zM172.7 735.6h11.2v11.2h-11.2zM174.2 740.7h11.2v11.2h-11.2zM175.6 744.7h11.2v11.2h-11.2zM177 748.3h11.2v11.2h-11.2zM178.4 751.3h11.2v11.2h-11.2zM179.8 754.4h11.2v11.2h-11.2zM181.3 757h11.2v11.2h-11.2zM182.7 758.8h11.2v11.2h-11.2zM184.1 759.9h11.2v11.2h-11.2zM185.5 760.7h11.2v11.2h-11.2zM186.9 761.1h11.2v11.2h-11.2zM188.4 761h11.2v11.2h-11.2zM189.8 760.9h11.2v11.2h-11.2zM191.2 760.3h11.2v11.2h-11.2zM192.6 759.9h11.2v11.2h-11.2zM194 759.2h11.2v11.2h-11.2zM195.5 757.8h11.2v11.2h-11.2zM196.9 756.5h11.2v11.2h-11.2zM198.3 755.8h11.2v11.2h-11.2zM199.7 754.9h11.2v11.2h-11.2zM201.1 754.8h11.2v11.2h-11.2zM202.6 758h11.2v11.2h-11.2zM204 769.4h11.2v11.2h-11.2zM205.4 787.4h11.2v11.2h-11.2zM206.8 810.4h11.2v11.2h-11.2zM208.2 835.4h11.2v11.2h-11.2zM209.7 860.4h11.2v11.2h-11.2zM211.1 882.4h11.2v11.2h-11.2zM212.5 900.4h11.2v11.2h-11.2zM213.9 914.4h11.2v11.2h-11.2zM215.3 924.4h11.2v11.2h-11.2zM216.8 931.4h11.2v11.2h-11.2zM218.2 935.9h11.2v11.2h-11.2zM219.6 938.9h11.2v11.2h-11.2zM221 940.9h11.2v11.2h-11.2zM222.4 941.8h11.2v11.2h-11.2zM223.9 941.9h11.2v11.2h-11.2zM225.3 942.6h11.2v11.2h-11.2zM226.7 943h11.2v11.2h-11.2zM228.1 943h11.2v11.2h-11.2zM229.5 943.1h11.2v11.2h-11.2zM231 943.3h11.2v11.2h-11.2zM232.4 943.5h11.2v11.2h-11.2zM233.8 943.7h11.2v11.2h-11.2zM235.2 943.9h11.2v11.2h-11.2zM236.6 944h11.2v11.2h-11.2zM238.1 944.1h11.2v11.2h-11.2zM239.5 944.2h11.2v11.2h-11.2zM240.9 944.2h11.2v11.2h-11.2zM242.3 943.9h11.2v11.2h-11.2zM243.7 944.2h11.2v11.2h-11.2zM245.2 944.3h11.2v11.2h-11.2zM246.6 944.2h11.2v11.2h-11.2zM248 944.4h11.2v11.2h-11.2zM249.4 944.2h11.2v11.2h-11.2zM250.8 944.2h11.2v11.2h-11.2zM252.3 944.5h11.2v11.2h-11.2zM253.7 944.4h11.2v11.2h-11.2zM255.1 944.4h11.2v11.2h-11.2zM256.5 944.5h11.2v11.2h-11.2zM257.9 944.6h11.2v11.2h-11.2zM259.4 944.5h11.2v11.2h-11.2zM260.8 944.1h11.2v11.2h-11.2zM262.2 944.3h11.2v11.2h-11.2zM263.6 944.4h11.2v11.2h-11.2zM265 944.3h11.2v11.2h-11.2zM266.5 944.5h11.2v11.2h-11.2zM267.9 944.7h11.2v11.2h-11.2zM269.3 944.4h11.2v11.2h-11.2zM270.7 944.3h11.2v11.2h-11.2zM272.1 944.8h11.2v11.2h-11.2zM273.6 944.5h11.2v11.2h-11.2zM275 944.4h11.2v11.2h-11.2zM276.4 944.6h11.2v11.2h-11.2zM277.8 944.6h11.2v11.2h-11.2zM279.2 944.5h11.2v11.2h-11.2zM280.7 944.7h11.2v11.2h-11.2zM282.1 944.5h11.2v11.2h-11.2zM283.5 944.4h11.2v11.2h-11.2zM284.9 944.6h11.2v11.2h-11.2zM286.3 944.7h11.2v11.2h-11.2zM287.8 944.5h11.2v11.2h-11.2zM289.2 944.6h11.2v11.2h-11.2zM290.6 944.6h11.2v11.2h-11.2zM292 945h11.2v11.2h-11.2zM293.4 944.5h11.2v11.2h-11.2zM294.9 944.8h11.2v11.2h-11.2zM296.3 944.6h11.2v11.2h-11.2zM297.7 944.6h11.2v11.2h-11.2zM299.1 944.7h11.2v11.2h-11.2zM300.5 944.7h11.2v11.2h-11.2zM302 944.8h11.2v11.2h-11.2zM303.4 944.6h11.2v11.2h-11.2zM304.8 944.5h11.2v11.2h-11.2zM306.2 944.5h11.2v11.2h-11.2zM307.6 944.7h11.2v11.2h-11.2zM309.1 944.7h11.2v11.2h-11.2zM310.5 944.8h11.2v11.2h-11.2zM311.9 944.7h11.2v11.2h-11.2zM313.3 944.8h11.2v11.2h-11.2zM314.7 944.8h11.2v11.2h-11.2zM316.2 944.6h11.2v11.2h-11.2zM317.6 944.4h11.2v11.2h-11.2zM319 944.4h11.2v11.2h-11.2zM320.4 944.4h11.2v11.2h-11.2zM321.8 944.8h11.2v11.2h-11.2zM323.3 944.5h11.2v11.2h-11.2zM324.7 944.8h11.2v11.2h-11.2zM326.1 944.7h11.2v11.2h-11.2zM327.5 944.8h11.2v11.2h-11.2zM328.9 944.7h11.2v11.2h-11.2zM330.4 944.6h11.2v11.2h-11.2zM331.8 944.6h11.2v11.2h-11.2zM333.2 944.6h11.2v11.2h-11.2zM334.6 944.6h11.2v11.2h-11.2zM336 944.5h11.2v11.2h-11.2zM337.5 944.6h11.2v11.2h-11.2zM338.9 944.8h11.2v11.2h-11.2zM340.3 944.3h11.2v11.2h-11.2zM341.7 944.6h11.2v11.2h-11.2zM343.1 944.4h11.2v11.2h-11.2zM344.6 944.6h11.2v11.2h-11.2zM346 944.7h11.2v11.2h-11.2zM347.4 944.6h11.2v11.2h-11.2zM348.8 944.7h11.2v11.2h-11.2zM350.2 944.3h11.2v11.2h-11.2zM351.7 944.7h11.2v11.2h-11.2zM353.1 944.5h11.2v11.2h-11.2zM354.5 944.7h11.2v11.2h-11.2zM355.9 944.6h11.2v11.2h-11.2zM357.3 944.2h11.2v11.2h-11.2zM358.8 944.4h11.2v11.2h-11.2zM360.2 944.6h11.2v11.2h-11.2zM361.6 944.8h11.2v11.2h-11.2zM363 944.6h11.2v11.2h-11.2zM364.4 944.6h11.2v11.2h-11.2zM365.9 944.3h11.2v11.2h-11.2zM367.3 944.8h11.2v11.2h-11.2zM368.7 944.8h11.2v11.2h-11.2zM370.1 944.5h11.2v11.2h-11.2zM371.5 944.5h11.2v11.2h-11.2zM373 944.3h11.2v11.2h-11.2zM374.4 944.7h11.2v11.2h-11.2zM375.8 944.9h11.2v11.2h-11.2zM377.2 944.6h11.2v11.2h-11.2zM378.6 944.7h11.2v11.2h-11.2zM380.1 944.6h11.2v11.2h-11.2zM381.5 944.4h11.2v11.2h-11.2zM382.9 944.7h11.2v11.2h-11.2zM384.3 944.3h11.2v11.2h-11.2zM385.7 944.5h11.2v11.2h-11.2zM387.2 944.6h11.2v11.2h-11.2zM388.6 944.6h11.2v11.2h-11.2zM390 944.6h11.2v11.2h-11.2zM391.4 944.6h11.2v11.2h-11.2zM392.8 944.4h11.2v11.2h-11.2zM394.3 944.3h11.2v11.2h-11.2zM395.7 944.5h11.2v11.2h-11.2zM397.1 944.4h11.2v11.2h-11.2zM398.5 944.3h11.2v11.2h-11.2zM399.9 944.3h11.2v11.2h-11.2zM401.4 944.4h11.2v11.2h-11.2zM402.8 944.2h11.2v11.2h-11.2zM404.2 944.3h11.2v11.2h-11.2zM405.6 944.2h11.2v11.2h-11.2zM407 944.5h11.2v11.2h-11.2zM408.5 944.5h11.2v11.2h-11.2zM409.9 944.8h11.2v11.2h-11.2zM411.3 944.2h11.2v11.2h-11.2zM412.7 944.4h11.2v11.2h-11.2zM414.1 944.6h11.2v11.2h-11.2zM415.6 944.4h11.2v11.2h-11.2zM417 944.4h11.2v11.2h-11.2zM418.4 944.7h11.2v11.2h-11.2zM419.8 944.4h11.2v11.2h-11.2zM421.2 944.3h11.2v11.2h-11.2zM422.7 944.2h11.2v11.2h-11.2zM424.1 944.5h11.2v11.2h-11.2zM425.5 944.5h11.2v11.2h-11.2zM426.9 944.2h11.2v11.2h-11.2zM428.3 944.3h11.2v11.2h-11.2zM429.8 944.5h11.2v11.2h-11.2zM431.2 944.5h11.2v11.2h-11.2zM432.6 944.3h11.2v11.2h-11.2zM434 944.5h11.2v11.2h-11.2zM435.4 944.5h11.2v11.2h-11.2zM436.9 944.1h11.2v11.2h-11.2zM438.3 944.4h11.2v11.2h-11.2zM439.7 944.5h11.2v11.2h-11.2zM441.1 944.3h11.2v11.2h-11.2zM442.5 944.1h11.2v11.2h-11.2zM444 944.4h11.2v11.2h-11.2zM445.4 944.5h11.2v11.2h-11.2zM446.8 944.6h11.2v11.2h-11.2zM448.2 944.1h11.2v11.2h-11.2zM449.6 944.8h11.2v11.2h-11.2zM451.1 944.2h11.2v11.2h-11.2zM452.5 944.5h11.2v11.2h-11.2zM453.9 944.6h11.2v11.2h-11.2zM455.3 944.5h11.2v11.2h-11.2zM456.7 944.4h11.2v11.2h-11.2zM458.2 944.2h11.2v11.2h-11.2zM459.6 944.5h11.2v11.2h-11.2zM461 944.2h11.2v11.2h-11.2zM462.4 944h11.2v11.2h-11.2zM463.8 944.8h11.2v11.2h-11.2zM465.3 944.4h11.2v11.2h-11.2zM466.7 944.6h11.2v11.2h-11.2zM468.1 944.2h11.2v11.2h-11.2zM469.5 944.5h11.2v11.2h-11.2zM470.9 944.6h11.2v11.2h-11.2zM472.4 944.5h11.2v11.2h-11.2zM473.8 944.3h11.2v11.2h-11.2zM475.2 944.1h11.2v11.2h-11.2zM476.6 944.3h11.2v11.2h-11.2zM478 944h11.2v11.2h-11.2zM479.5 944h11.2v11.2h-11.2zM480.9 944.3h11.2v11.2h-11.2zM482.3 944.1h11.2v11.2h-11.2zM483.7 944.2h11.2v11.2h-11.2zM485.1 944.2h11.2v11.2h-11.2zM486.6 944.5h11.2v11.2h-11.2zM488 944.4h11.2v11.2h-11.2zM489.4 944.2h11.2v11.2h-11.2zM490.8 944.4h11.2v11.2h-11.2zM492.2 944.1h11.2v11.2h-11.2zM493.7 944.2h11.2v11.2h-11.2zM495.1 944.3h11.2v11.2h-11.2zM496.5 944h11.2v11.2h-11.2zM497.9 944.2h11.2v11.2h-11.2zM499.3 944h11.2v11.2h-11.2zM500.8 944.2h11.2v11.2h-11.2zM502.2 944.4h11.2v11.2h-11.2zM503.6 944.1h11.2v11.2h-11.2zM505 944.2h11.2v11.2h-11.2zM506.4 944h11.2v11.2h-11.2zM507.9 944h11.2v11.2h-11.2zM509.3 944h11.2v11.2h-11.2zM510.7 944.4h11.2v11.2h-11.2zM512.1 944.5h11.2v11.2h-11.2zM513.5 944.2h11.2v11.2h-11.2zM515 944h11.2v11.2h-11.2zM516.4 944.2h11.2v11.2h-11.2zM517.8 944.1h11.2v11.2h-11.2zM519.2 944.2h11.2v11.2h-11.2zM520.6 944.1h11.2v11.2h-11.2zM522.1 944.1h11.2v11.2h-11.2zM523.5 944.2h11.2v11.2h-11.2zM524.9 944h11.2v11.2h-11.2zM526.3 944h11.2v11.2h-11.2zM527.7 943.8h11.2v11.2h-11.2zM529.2 944h11.2v11.2h-11.2zM530.6 943.8h11.2v11.2h-11.2zM532 944h11.2v11.2h-11.2zM533.4 943.9h11.2v11.2h-11.2zM534.8 944h11.2v11.2h-11.2zM536.3 944.1h11.2v11.2h-11.2zM537.7 943.8h11.2v11.2h-11.2zM539.1 943.9h11.2v11.2h-11.2zM540.5 943.9h11.2v11.2h-11.2zM541.9 944.1h11.2v11.2h-11.2zM543.4 944.3h11.2v11.2h-11.2zM544.8 944.1h11.2v11.2h-11.2zM546.2 943.9h11.2v11.2h-11.2zM547.6 944.2h11.2v11.2h-11.2zM549 943.8h11.2v11.2h-11.2zM550.5 944.2h11.2v11.2h-11.2zM551.9 943.9h11.2v11.2h-11.2zM553.3 943.6h11.2v11.2h-11.2zM554.7 944.4h11.2v11.2h-11.2zM556.1 944.2h11.2v11.2h-11.2zM557.6 943.8h11.2v11.2h-11.2zM559 944h11.2v11.2h-11.2zM560.4 943.9h11.2v11.2h-11.2zM561.8 944h11.2v11.2h-11.2zM563.2 943.7h11.2v11.2h-11.2zM564.7 943.8h11.2v11.2h-11.2zM566.1 944h11.2v11.2h-11.2zM567.5 944h11.2v11.2h-11.2zM568.9 944.1h11.2v11.2h-11.2zM570.3 943.9h11.2v11.2h-11.2zM571.8 944.3h11.2v11.2h-11.2zM573.2 943.8h11.2v11.2h-11.2zM574.6 943.9h11.2v11.2h-11.2zM576 943.6h11.2v11.2h-11.2zM577.4 943.7h11.2v11.2h-11.2zM578.9 944.1h11.2v11.2h-11.2zM580.3 943.7h11.2v11.2h-11.2zM581.7 944h11.2v11.2h-11.2zM583.1 943.9h11.2v11.2h-11.2zM584.5 943.7h11.2v11.2h-11.2zM586 943.8h11.2v11.2h-11.2zM587.4 943.8h11.2v11.2h-11.2zM588.8 943.8h11.2v11.2h-11.2zM590.2 944h11.2v11.2h-11.2zM591.6 944h11.2v11.2h-11.2zM593.1 943.8h11.2v11.2h-11.2zM594.5 943.7h11.2v11.2h-11.2zM595.9 943.9h11.2v11.2h-11.2zM597.3 943.8h11.2v11.2h-11.2zM598.7 944h11.2v11.2h-11.2zM600.2 944.2h11.2v11.2h-11.2zM601.6 944h11.2v11.2h-11.2zM603 943.8h11.2v11.2h-11.2zM604.4 943.8h11.2v11.2h-11.2zM605.8 943.7h11.2v11.2h-11.2zM607.3 943.7h11.2v11.2h-11.2zM608.7 943.7h11.2v11.2h-11.2zM610.1 943.7h11.2v11.2h-11.2zM611.5 943.7h11.2v11.2h-11.2zM612.9 943.9h11.2v11.2h-11.2zM614.4 943.7h11.2v11.2h-11.2zM615.8 943.8h11.2v11.2h-11.2zM617.2 943.6h11.2v11.2h-11.2zM618.6 944h11.2v11.2h-11.2zM620 943.9h11.2v11.2h-11.2zM621.5 944h11.2v11.2h-11.2zM622.9 943.9h11.2v11.2h-11.2zM624.3 944h11.2v11.2h-11.2zM625.7 943.7h11.2v11.2h-11.2zM627.1 943.9h11.2v11.2h-11.2zM628.6 944.2h11.2v11.2h-11.2zM630 943.6h11.2v11.2h-11.2zM631.4 943.9h11.2v11.2h-11.2zM632.8 944h11.2v11.2h-11.2zM634.2 943.8h11.2v11.2h-11.2zM635.7 943.9h11.2v11.2h-11.2zM637.1 943.9h11.2v11.2h-11.2zM638.5 943.6h11.2v11.2h-11.2zM639.9 943.8h11.2v11.2h-11.2zM641.3 943.6h11.2v11.2h-11.2zM642.8 943.6h11.2v11.2h-11.2zM644.2 943.6h11.2v11.2h-11.2zM645.6 943.7h11.2v11.2h-11.2zM647 943.7h11.2v11.2h-11.2zM648.4 943.8h11.2v11.2h-11.2zM649.9 943.5h11.2v11.2h-11.2zM651.3 944h11.2v11.2h-11.2zM652.7 943.9h11.2v11.2h-11.2z"/>
<path fill="none" stroke="#ff0000" stroke-width="12.5" stroke-linecap="round" d="M90.3 780.7h0M91.7 776.2h0M93.1 771.2h0M94.6 766.4h0M96 760.7h0M97.4 755h0M98.8 750.7h0M100.2 746.6h0M101.7 741.3h0M103.1 737.4h0M104.5 730.8h0M105.9 722.7h0M107.3 714.2h0M108.8 706.4h0M110.2 699.6h0M111.6 693.3h0M113 686.1h0M114.4 679.5h0M115.9 674.2h0M117.3 669.1h0M118.7 664.1h0M120.1 658.9h0M121.5 653.9h0M123 649h0M124.4 646h0M125.8 642h0M127.2 638.1h0M128.6 634.3h0M130.1 630.5h0M131.5 626.9h0M132.9 624.4h0M134.3 620.4h0M135.7 616.2h0M137.2 614.9h0M138.6 611.6h0M140 610h0M141.4 608.2h0M142.8 605.5h0M144.3 603.9h0M145.7 602.5h0M147.1 600.6h0M148.5 598.5h0M149.9 593.8h0M151.4 588.2h0M152.8 581.9h0M154.2 578h0M155.6 583.8h0M157 596.5h0M158.5 609.2h0M159.9 619.9h0M161.3 635.3h0M162.7 653.9h0M164.1 671.1h0M165.6 686.9h0M167 704.1h0M168.4 717.2h0M169.8 729.7h0M171.2 742.6h0M172.7 752.9h0M174.1 761.8h0M175.5 770.1h0M176.9 776.6h0M178.3 781.2h0M179.8 784.7h0M181.2 788.4h0M182.6 792.3h0M184 795.8h0M185.4 798.7h0M186.9 801.9h0M188.3 804.5h0M189.7 806.1h0M191.1 808.1h0M192.5 809.4h0M194 809.8h0M195.4 809.2h0M196.8 808.5h0M198.2 807.3h0M199.6 806.2h0M201.1 804.8h0M202.5 803.7h0M203.9 802.6h0M205.3 803.1h0M206.7 805.3h0M208.2 816h0M209.6 827h0M211 841h0M212.4 856h0M213.8 872h0M215.3 888h0M216.7 901h0M218.1 912h0M219.5 921h0M220.9 928h0M222.4 933h0M223.8 936.5h0M225.2 938.5h0M226.6 939.5h0M228 939.9h0M229.5 940h0M230.9 940.4h0M232.3 940.4h0M233.7 940.7h0M235.1 941.2h0M236.6 941.8h0M238 941.8h0M239.4 942.5h0M240.8 942.9h0M242.2 943.2h0M243.7 943.4h0M245.1 943.6h0M246.5 944h0M247.9 943.9h0M249.3 944.2h0M250.8 944.4h0M252.2 944.3h0M253.6 944.4h0M255 944.7h0M256.4 944.5h0M257.9 944.4h0M259.3 944.5h0M260.7 944.4h0M262.1 944.6h0M263.5 944.7h0M265 944.5h0M266.4 944.6h0M267.8 944.8h0M269.2 944.6h0M270.6 944.7h0M272.1 944.5h0M273.5 944.6h0M274.9 944.6h0M276.3 945h0M277.7 944.7h0M279.2 944.7h0M280.6 944.7h0M282 944.7h0M283.4 944.9h0M284.8 944.8h0M286.3 945.1h0M287.7 944.8h0M289.1 945h0M290.5 944.9h0M291.9 944.9h0M293.4 944.6h0M294.8 944.8h0M296.2 944.8h0M297.6 944.8h0M299 944.5h0M300.5 945h0M301.9 944.8h0M303.3 944.8h0M304.7 944.9h0M306.1 944.9h0M307.6 945h0M309 944.7h0M310.4 944.8h0M311.8 945h0M313.2 945h0M314.7 944.9h0M316.1 944.9h0M317.5 944.9h0M318.9 945h0M320.3 945.2h0M321.8 944.9h0M323.2 945.3h0M324.6 945.2h0M326 945h0M327.4 945.2h0M328.9 944.9h0M330.3 944.8h0M331.7 944.9h0M333.1 945.1h0M334.5 945.1h0M336 945.1h0M337.4 945.2h0M338.8 944.9h0M340.2 945.3h0M341.6 945h0M343.1 945.1h0M344.5 945.2h0M345.9 945.1h0M347.3 945.1h0M348.7 945.1h0M350.2 945.3h0M351.6 945.4h0M353 945.4h0M354.4 945.2h0M355.8 945.2h0M357.3 945.2h0M358.7 945.4h0M360.1 945.1h0M361.5 945.6h0M362.9 945.3h0M364.4 945.3h0M365.8 945.5h0M367.2 945.6h0M368.6 945.5h0M370 945.6h0M371.5 945.5h0M372.9 945.7h0M374.3 945.7h0M375.7 945.5h0M377.1 945.8h0M378.6 945.6h0M380 945.6h0M381.4 945.5h0M382.8 945.6h0M384.2 945.7h0M385.7 945.4h0M387.1 945.7h0M388.5 945.7h0M389.9 945.7h0M391.3 945.4h0M392.8 945.7h0M394.2 945.8h0M395.6 945.6h0M397 945.8h0M398.4 945.4h0M399.9 945.9h0M401.3 945.7h0M402.7 945.9h0M404.1 945.5h0M405.5 945.9h0M407 945.8h0M408.4 946h0M409.8 945.7h0M411.2 945.8h0M412.6 946.2h0M414.1 945.8h0M415.5 945.8h0M416.9 945.9h0M418.3 945.8h0M419.7 946.1h0M421.2 946.2h0M422.6 945.9h0M424 945.7h0M425.4 946.2h0M426.8 946.2h0M428.3 946.2h0M429.7 946.2h0M431.1 945.9h0M432.5 946h0M433.9 945.9h0M435.4 945.9h0M436.8 946.2h0M438.2 946h0M439.6 946.5h0M441 946.1h0M442.5 946h0M443.9 946.3h0M445.3 946.4h0M446.7 946.2h0M448.1 946h0M449.6 946.3h0M451 946.4h0M452.4 946.1h0M453.8 946.1h0M455.2 946.4h0M456.7 946.3h0M458.1 946.1h0M459.5 946.2h0M460.9 946.2h0M462.3 946.3h0M463.8 946.3h0M465.2 946.5h0M466.6 946.4h0M468 946.1h0M469.4 946.4h0M470.9 946.5h0M472.3 946.4h0M473.7 946.5h0M475.1 946.3h0M476.5 946.3h0M478 946.6h0M479.4 946.3h0M480.8 946.1h0M482.2 946.6h0M483.6 946.4h0M485.1 946.4h0M486.5 946.3h0M487.9 946.3h0M489.3 946.3h0M490.7 946.5h0M492.2 946.6h0M493.6 946.2h0M495 946.7h0M496.4 946.4h0M497.8 946.4h0M499.3 946.7h0M500.7 946.6h0M502.1 946.4h0M503.5 946.9h0M504.9 946.5h0M506.4 946.7h0M507.8 946.7h0M509.2 946.9h0M510.6 946.6h0M512 946.8h0M513.5 946.6h0M514.9 946.9h0M516.3 946.6h0M517.7 946.6h0M519.1 947h0M520.6 946.8h0M522 946.7h0M523.4 947.1h0M524.8 946.8h0M526.2 946.6h0M527.7 946.9h0M529.1 946.6h0M530.5 946.9h0M531.9 946.9h0M533.3 946.7h0M534.8 946.7h0M536.2 946.8h0M537.6 946.8h0M539 946.6h0M540.4 946.9h0M541.9 946.5h0M543.3 946.7h0M544.7 946.7h0M546.1 946.8h0M547.5 946.8h0M549 946.6h0M550.4 946.9h0M551.8 946.8h0M553.2 946.7h0M554.6 946.6h0M556.1 946.6h0M557.5 946.9h0M558.9 946.7h0M560.3 946.8h0M561.7 947h0M563.2 947h0M564.6 947h0M566 946.8h0M567.4 946.6h0M568.8 947h0M570.3 946.8h0M571.7 947h0M573.1 946.8h0M574.5 947h0M575.9 946.9h0M577.4 946.9h0M578.8 946.9h0M580.2 946.9h0M581.6 946.8h0M583 946.8h0M584.5 946.9h0M585.9 946.7h0M587.3 947.1h0M588.7 946.8h0M590.1 946.9h0M591.6 946.8h0M593 946.8h0M594.4 947.1h0M595.8 946.7h0M597.2 946.6h0M598.7 946.7h0M600.1 946.7h0M601.5 947.1h0M602.9 946.8h0M604.3 946.9h0M605.8 946.6h0M607.2 946.8h0M608.6 946.9h0M610 947h0M611.4 946.7h0M612.9 946.9h0M614.3 946.8h0M615.7 946.6h0M617.1 946.8h0M618.5 946.7h0M620 946.4h0M621.4 946.8h0M622.8 946.8h0M624.2 946.7h0M625.6 946.5h0M627.1 947h0M628.5 946.8h0M629.9 946.9h0M631.3 946.9h0M632.7 946.6h0M634.2 946.8h0M635.6 946.7h0M637 946.7h0M638.4 946.7h0M639.8 946.7h0M641.3 946.8h0M642.7 946.7h0M644.1 946.6h0M645.5 946.6h0M646.9 946.7h0M648.4 946.5h0M649.8 946.6h0M651.2 946.6h0M652.6 946.5h0M654 946.6h0M655.5 946.5h0M656.9 946.9h0M658.3 946.8h0"/>
<path fill="#00ff00" d="M90.3 732.7l7.5 13h-15zM91.7 721.4l7.5 13h-15zM93.1 712.5l7.5 13h-15zM94.6 705.2l7.5 13h-15zM96 698l7.5 13h-15zM97.4 692l7.5 13h-15zM98.8 686l7.5 13h-15zM100.2 678.8l7.5 13h-15zM101.7 673.6l7.5 13h-15zM103.1 669.1l7.5 13h-15zM104.5 663.3l7.5 13h-15zM105.9 658.4l7.5 13h-15zM107.3 655.8l7.5 13h-15zM108.8 648.7l7.5 13h-15zM110.2 644.5l7.5 13h-15zM111.6 642.7l7.5 13h-15zM113 636.6l7.5 13h-15zM114.4 633l7.5 13h-15zM115.9 632.5l7.5 13h-15zM117.3 628.2l7.5 13h-15zM118.7 623.2l7.5 13h-15zM120.1 618.5l7.5 13h-15zM121.5 616.2l7.5 13h-15zM123 617.7l7.5 13h-15zM124.4 613.9l7.5 13h-15zM125.8 606.6l7.5 13h-15zM127.2 608.4l7.5 13h-15zM128.6 603.9l7.5 13h-15zM130.1 604.3l7.5 13h-15zM131.5 598.3l7.5 13h-15zM132.9 595.1l7.5 13h-15zM134.3 592.1l7.5 13h-15zM135.7 592.6l7.5 13h-15zM137.2 595.5l7.5 13h-15zM138.6 594.3l7.5 13h-15zM140 590.8l7.5 13h-15zM141.4 590.2l7.5 13h-15zM142.8 583.5l7.5 13h-15zM144.3 583.7l7.5 13h-15zM145.7 588.2l7.5 13h-15zM147.1 587.8l7.5 13h-15zM148.5 580.4l7.5 13h-15zM149.9 582.8l7.5 13h-15zM151.4 572.3l7.5 13h-15zM152.8 569l7.5 13h-15zM154.2 569.8l7.5 13h-15zM155.6 579.4l7.5 13h-15zM157 589.1l7.5 13h-15zM158.5 596.5l7.5 13h-15zM159.9 602.8l7.5 13h-15zM161.3 610l7.5 13h-15zM162.7 619.1l7.5 13h-15zM164.1 630.6l7.5 13h-15zM165.6 642.6l7.5 13h-15zM167 654l7.5 13h-15zM168.4 667.3l7.5 13h-15zM169.8 681.7l7.5 13h-15zM171.2 694l7.5 13h-15zM172.7 704.8l7.5 13h-15zM174.1 715.1l7.5 13h-15zM175.5 724l7.5 13h-15zM176.9 732.2l7.5 13h-15zM178.3 739l7.5 13h-15zM179.8 744.5l7.5 13h-15zM181.2 748.4l7.5 13h-15zM182.6 751.7l7.5 13h-15zM184 754.3l7.5 13h-15zM185.4 756.8l7.5 13h-15zM186.9 758.4l7.5 13h-15zM188.3 759.7l7.5 13h-15zM189.7 760.9l7.5 13h-15zM191.1 761.5l7.5 13h-15zM192.5 761.9l7.5 13h-15zM194 762.3l7.5 13h-15zM195.4 762.1l7.5 13h-15zM196.8 761.3l7.5 13h-15zM198.2 760.8l7.5 13h-15zM199.6 759.9l7.5 13h-15zM201.1 758.8l7.5 13h-15zM202.5 757.4l7.5 13h-15zM203.9 756.7l7.5 13h-15zM205.3 755.5l7.5 13h-15zM206.7 756.5l7.5 13h-15zM208.2 763.5l7.5 13h-15zM209.6 770.5l7.5 13h-15zM211 782.5l7.5 13h-15zM212.4 802.5l7.5 13h-15zM213.8 825l7.5 13h-15zM215.3 848.5l7.5 13h-15zM216.7 868l7.5 13h-15zM218.1 884.5l7.5 13h-15zM219.5 897.5l7.5 13h-15zM220.9 908.5l7.5 13h-15zM222.4 917.5l7.5 13h-15zM223.8 924.5l7.5 13h-15zM225.2 929.5l7.5 13h-15zM226.6 932.5l7.5 13h-15zM228 934l7.5 13h-15zM229.5 934.4l7.5 13h-15zM230.9 934.8l7.5 13h-15zM232.3 934.9l7.5 13h-15zM233.7 935.4l7.5 13h-15zM235.1 935.8l7.5 13h-15zM236.6 936.4l7.5 13h-15zM238 936.7l7.5 13h-15zM239.4 937l7.5 13h-15zM240.8 937.6l7.5 13h-15zM242.2 937.7l7.5 13h-15zM243.7 937.8l7.5 13h-15zM245.1 937.9l7.5 13h-15zM246.5 938.1l7.5 13h-15zM247.9 938.5l7.5 13h-15zM249.3 938.3l7.5 13h-15zM250.8 938.6l7.5 13h-15zM252.2 938.8l7.5 13h-15zM253.6 938.7l7.5 13h-15zM255 938.8l7.5 13h-15zM256.4 938.6l7.5 13h-15zM257.9 939l7.5 13h-15zM259.3 939l7.5 13h-15zM260.7 938.9l7.5 13h-15zM262.1 938.6l7.5 13h-15zM263.5 938.7l7.5 13h-15zM265 939l7.5 13h-15zM266.4 939.2l7.5 13h-15zM267.8 939l7.5 13h-15zM269.2 939.1l7.5 13h-15zM270.6 938.9l7.5 13h-15zM272.1 939l7.5 13h-15zM273.5 939l7.5 13h-15zM274.9 939.1l7.5 13h-15zM276.3 938.8l7.5 13h-15zM277.7 939.2l7.5 13h-15zM279.2 939.3l7.5 13h-15zM280.6 938.9l7.5 13h-15zM282 938.9l7.5 13h-15zM283.4 939.1l7.5 13h-15zM284.8 939l7.5 13h-15zM286.3 938.8l7.5 13h-15zM287.7 939.2l7.5 13h-15zM289.1 939.1l7.5 13h-15zM290.5 939.1l7.5 13h-15zM291.9 939.5l7.5 13h-15zM293.4 939.2l7.5 13h-15zM294.8 939l7.5 13h-15zM296.2 939.2l7.5 13h-15zM297.6 939l7.5 13h-15zM299 939.1l7.5 13h-15zM300.5 939.2l7.5 13h-15zM301.9 939.1l7.5 13h-15zM303.3 939.1l7.5 13h-15zM304.7 939.5l7.5 13h-15zM306.1 939.3l7.5 13h-15zM307.6 939.3l7.5 13h-15zM309 939.3l7.5 13h-15zM310.4 939.3l7.5 13h-15zM311.8 939.5l7.5 13h-15zM313.2 939.3l7.5 13h-15zM314.7 939.5l7.5 13h-15zM316.1 939.1l7.5 13h-15zM317.5 939.2l7.5 13h-15zM318.9 939.1l7.5 13h-15zM320.3 939.3l7.5 13h-15zM321.8 939.4l7.5 13h-15zM323.2 939.5l7.5 13h-15zM324.6 939.2l7.5 13h-15zM326 939.3l7.5 13h-15zM327.4 939.3l7.5 13h-15zM328.9 939.3l7.5 13h-15zM330.3 939.2l7.5 13h-15zM331.7 939.4l7.5 13h-15zM333.1 939.1l7.5 13h-15zM334.5 939.4l7.5 13h-15zM336 939.4l7.5 13h-15zM337.4 939.3l7.5 13h-15zM338.8 939.3l7.5 13h-15zM340.2 939.3l7.5 13h-15zM341.6 939.8l7.5 13h-15zM343.1 939.3l7.5 13h-15zM344.5 939.7l7.5 13h-15zM345.9 939.6l7.5 13h-15zM347.3 939.5l7.5 13h-15zM348.7 939.4l7.5 13h-15zM350.2 939.7l7.5 13h-15zM351.6 939.8l7.5 13h-15zM353 939.4l7.5 13h-15zM354.4 939.5l7.5 13h-15zM355.8 939.7l7.5 13h-15zM357.3 939.7l7.5 13h-15zM358.7 939.9l7.5 13h-15zM360.1 939.5l7.5 13h-15zM361.5 939.7l7.5 13h-15zM362.9 939.5l7.5 13h-15zM364.4 940l7.5 13h-15zM365.8 939.6l7.5 13h-15zM367.2 939.4l7.5 13h-15zM368.6 939.7l7.5 13h-15zM370 939.7l7.5 13h-15zM371.5 940l7.5 13h-15zM372.9 939.7l7.5 13h-15zM374.3 939.7l7.5 13h-15zM375.7 939.8l7.5 13h-15zM377.1 940l7.5 13h-15zM378.6 939.8l7.5 13h-15zM380 939.9l7.5 13h-15zM381.4 939.9l7.5 13h-15zM382.8 939.8l7.5 13h-15zM384.2 939.8l7.5 13h-15zM385.7 939.8l7.5 13h-15zM387.1 939.7l7.5 13h-15zM388.5 940l7.5 13h-15zM389.9 939.6l7.5 13h-15zM391.3 940l7.5 13h-15zM392.8 940l7.5 13h-15zM394.2 939.9l7.5 13h-15zM395.6 939.8l7.5 13h-15zM397 939.9l7.5 13h-15zM398.4 940l7.5 13h-15zM399.9 940l7.5 13h-15zM401.3 940l7.5 13h-15zM402.7 940.1l7.5 13h-15zM404.1 939.9l7.5 13h-15zM405.5 940l7.5 13h-15zM407 939.7l7.5 13h-15zM408.4 940.1l7.5 13h-15zM409.8 940l7.5 13h-15zM411.2 939.9l7.5 13h-15zM412.6 940.2l7.5 13h-15zM414.1 940.1l7.5 13h-15zM415.5 939.6l7.5 13h-15zM416.9 940l7.5 13h-15zM418.3 939.8l7.5 13h-15zM419.7 940.2l7.5 13h-15zM421.2 940.4l7.5 13h-15zM422.6 940l7.5 13h-15zM424 940.1l7.5 13h-15zM425.4 940l7.5 13h-15zM426.8 940.1l7.5 13h-15zM428.3 940.2l7.5 13h-15zM429.7 940.3l7.5 13h-15zM431.1 939.9l7.5 13h-15zM432.5 940.3l7.5 13h-15zM433.9 939.9l7.5 13h-15zM435.4 940.1l7.5 13h-15zM436.8 940.3l7.5 13h-15zM438.2 940.2l7.5 13h-15zM439.6 940l7.5 13h-15zM441 940l7.5 13h-15zM442.5 940l7.5 13h-15zM443.9 940.1l7.5 13h-15zM445.3 940.3l7.5 13h-15zM446.7 939.9l7.5 13h-15zM448.1 940.2l7.5 13h-15zM449.6 940.2l7.5 13h-15zM451 940.2l7.5 13h-15zM452.4 940.2l7.5 13h-15zM453.8 940.3l7.5 13h-15zM455.2 940.2l7.5 13h-15zM456.7 940.2l7.5 13h-15zM458.1 940.2l7.5 13h-15zM459.5 940.4l7.5 13h-15zM460.9 939.8l7.5 13h-15zM462.3 940.3l7.5 13h-15zM463.8 940l7.5 13h-15zM465.2 940l7.5 13h-15zM466.6 939.9l7.5 13h-15zM468 939.8l7.5 13h-15zM469.4 940l7.5 13h-15zM470.9 939.9l7.5 13h-15zM472.3 940.1l7.5 13h-15zM473.7 939.8l7.5 13h-15zM475.1 940.2l7.5 13h-15zM476.5 940l7.5 13h-15zM478 939.9l7.5 13h-15zM479.4 939.9l7.5 13h-15zM480.8 939.8l7.5 13h-15zM482.2 939.8l7.5 13h-15zM483.6 939.9l7.5 13h-15zM485.1 939.9l7.5 13h-15zM486.5 939.9l7.5 13h-15zM487.9 939.7l7.5 13h-15zM489.3 939.8l7.5 13h-15zM490.7 939.7l7.5 13h-15zM492.2 939.9l7.5 13h-15zM493.6 940.1l7.5 13h-15zM495 939.9l7.5 13h-15zM496.4 939.8l7.5 13h-15zM497.8 939.5l7.5 13h-15zM499.3 939.6l7.5 13h-15zM500.7 939.5l7.5 13h-15zM502.1 939.9l7.5 13h-15zM503.5 939.6l7.5 13h-15zM504.9 939.7l7.5 13h-15zM506.4 939.6l7.5 13h-15zM507.8 939.7l7.5 13h-15zM509.2 939.9l7.5 13h-15zM510.6 939.5l7.5 13h-15zM512 939.6l7.5 13h-15zM513.5 939.5l7.5 13h-15zM514.9 939.7l7.5 13h-15zM516.3 939.4l7.5 13h-15zM517.7 939.4l7.5 13h-15zM519.1 939.3l7.5 13h-15zM520.6 939.3l7.5 13h-15zM522 939.6l7.5 13h-15zM523.4 939.9l7.5 13h-15zM524.8 939.3l7.5 13h-15zM526.2 939.6l7.5 13h-15zM527.7 939.5l7.5 13h-15zM529.1 939.3l7.5 13h-15zM530.5 939.4l7.5 13h-15zM531.9 939.4l7.5 13h-15zM533.3 939.3l7.5 13h-15zM534.8 939.7l7.5 13h-15zM536.2 939.1l7.5 13h-15zM537.6 939.4l7.5 13h-15zM539 939.4l7.5 13h-15zM540.4 939.2l7.5 13h-15zM541.9 939.3l7.5 13h-15zM543.3 939.4l7.5 13h-15zM544.7 939.3l7.5 13h-15zM546.1 939.3l7.5 13h-15zM547.5 939.3l7.5 13h-15zM549 938.9l7.5 13h-15zM550.4 939.4l7.5 13h-15zM551.8 939.5l7.5 13h-15zM553.2 939.3l7.5 13h-15zM554.6 939.3l7.5 13h-15zM556.1 938.9l7.5 13h-15zM557.5 939.1l7.5 13h-15zM558.9 939l7.5 13h-15zM560.3 939l7.5 13h-15zM561.7 939.2l7.5 13h-15zM563.2 939l7.5 13h-15zM564.6 939l7.5 13h-15zM566 938.8l7.5 13h-15zM567.4 939l7.5 13h-15zM568.8 939l7.5 13h-15zM570.3 938.9l7.5 13h-15zM571.7 938.9l7.5 13h-15zM573.1 939.3l7.5 13h-15zM574.5 938.8l7.5 13h-15zM575.9 938.8l7.5 13h-15zM577.4 938.8l7.5 13h-15zM578.8 939.1l7.5 13h-15zM580.2 939.2l7.5 13h-15zM581.6 938.9l7.5 13h-15zM583 938.8l7.5 13h-15zM584.5 938.8l7.5 13h-15zM585.9 939l7.5 13h-15zM587.3 938.7l7.5 13h-15zM588.7 939l7.5 13h-15zM590.1 939l7.5 13h-15zM591.6 938.8l7.5 13h-15zM593 938.9l7.5 13h-15zM594.4 938.9l7.5 13h-15zM595.8 939l7.5 13h-15zM597.2 938.6l7.5 13h-15zM598.7 938.9l7.5 13h-15zM600.1 938.7l7.5 13h-15zM601.5 938.6l7.5 13h-15zM602.9 938.7l7.5 13h-15zM604.3 938.6l7.5 13h-15zM605.8 938.5l7.5 13h-15zM607.2 938.4l7.5 13h-15zM608.6 938.5l7.5 13h-15zM610 938.8l7.5 13h-15zM611.4 938.9l7.5 13h-15zM612.9 938.7l7.5 13h-15zM614.3 938.7l7.5 13h-15zM615.7 938.5l7.5 13h-15zM617.1 938.5l7.5 13h-15zM618.5 938.6l7.5 13h-15zM620 938.3l7.5 13h-15zM621.4 938.3l7.5 13h-15zM622.8 938.5l7.5 13h-15zM624.2 938.4l7.5 13h-15zM625.6 938.3l7.5 13h-15zM627.1 938.5l7.5 13h-15zM628.5 938.4l7.5 13h-15zM629.9 938.6l7.5 13h-15zM631.3 938.4l7.5 13h-15zM632.7 938.3l7.5 13h-15zM634.2 938.4l7.5 13h-15zM635.6 938.3l7.5 13h-15zM637 938.2l7.5 13h-15zM638.4 938.3l7.5 13h-15zM639.8 938.4l7.5 13h-15zM641.3 938.4l7.5 13h-15zM642.7 938.5l7.5 13h-15zM644.1 938l7.5 13h-15zM645.5 938.2l7.5 13h-15zM646.9 938.2l7.5 13h-15zM648.4 938.2l7.5 13h-15zM649.8 938.1l7.5 13h-15zM651.2 938.1l7.5 13h-15zM652.6 938.3l7.5 13h-15zM654 938.2l7.5 13h-15zM655.5 938l7.5 13h-15zM656.9 938.3l7.5 13h-15zM658.3 938.3l7.5 13h-15z"/>
</g>
<g stroke="#000" stroke-width="2.1" fill="none" stroke-linecap="butt">
<path d="M91.0 535.2V958.0M90.0 957.0H660.0M659.0 958.0V535.2M660.0 536.2H90.0"/>
<path d="M91 957.0v11M233 957.0v11M375 957.0v11M517 957.0v11M659 957.0v11M162 957.0v6M304 957.0v6M446 957.0v6M588 957.0v6M91.0 957h-11M91.0 836.8h-11M91.0 716.5h-11M91.0 596.3h-11M91.0 896.9h-6M91.0 776.7h-6M91.0 656.4h-6M91.0 536.2h-6"/></g>
<g font-family="Liberation Serif, serif" font-size="20" fill="#000">
<text x="90.8" y="989.2" text-anchor="middle">200</text>
<text x="232.8" y="989.2" text-anchor="middle">400</text>
<text x="374.8" y="989.2" text-anchor="middle">600</text>
<text x="516.8" y="989.2" text-anchor="middle">800</text>
<text x="658.8" y="989.2" text-anchor="middle">1000</text>
<text x="74.2" y="963.8" text-anchor="end">0</text>
<text x="74.2" y="843.6" text-anchor="end">1</text>
<text x="74.2" y="723.3" text-anchor="end">2</text>
<text x="74.2" y="603.1" text-anchor="end">3</text>
</g>
<rect x="517.3" y="554.3" width="92" height="88.7" fill="#fff" stroke="#333" stroke-width="1"/>
<rect x="541.1" y="564" width="11.4" height="11.4" fill="#000"/>
<circle cx="546.8" cy="599.6" r="6.6" fill="#ff0000"/>
<path d="M546.8 621l7.8 12.8h-15.6z" fill="#00ff00"/>
<g font-family="Liberation Sans, sans-serif" font-size="19" fill="#000"><text x="574" y="577.9" textLength="33.3" lengthAdjust="spacingAndGlyphs">Z02</text><text x="574" y="607.3" textLength="33.3" lengthAdjust="spacingAndGlyphs">Z03</text><text x="574" y="637.7" textLength="33.3" lengthAdjust="spacingAndGlyphs">Z01</text></g>
<text x="308.4" y="1017.8" font-family="Liberation Serif, serif" font-size="24" fill="#000" textLength="168" lengthAdjust="spacingAndGlyphs">Wavelength (nm)</text>
<text transform="translate(56.9,766) rotate(-90)" text-anchor="middle" font-family="Liberation Serif, serif" font-size="24" fill="#000">A (a.u)</text>
<text x="0.8" y="553.6" font-family="Liberation Serif, serif" font-weight="bold" font-size="35" fill="#000">(b)</text>
<clipPath id="cpc"><rect x="86.7" y="1083.8" width="574.3" height="410.0"/></clipPath>
<g clip-path="url(#cpc)">
<path fill="#000" d="M135.4 1089.5h11.5v11.5h-11.5zM133.8 1110.5h11.5v11.5h-11.5zM132.7 1145.5h11.5v11.5h-11.5zM136.8 1160.7h11.5v11.5h-11.5zM123.8 1170h11.5v11.5h-11.5zM122.7 1182h11.5v11.5h-11.5zM111.3 1195.3h11.5v11.5h-11.5zM111.3 1205.8h11.5v11.5h-11.5zM85.2 1203h11.5v11.5h-11.5zM129.7 1198.8h11.5v11.5h-11.5zM138.3 1203.5h11.5v11.5h-11.5zM122 1215.8h11.5v11.5h-11.5zM126.8 1219.2h11.5v11.5h-11.5zM141.9 1222.8h11.5v11.5h-11.5zM84 1226.8h11.5v11.5h-11.5zM91 1231h11.5v11.5h-11.5zM108.7 1243.8h11.5v11.5h-11.5zM120.8 1238h11.5v11.5h-11.5zM139.6 1243.8h11.5v11.5h-11.5zM101.7 1250.8h11.5v11.5h-11.5zM143.1 1255.5h11.5v11.5h-11.5zM97 1257.8h11.5v11.5h-11.5zM144.2 1266h11.5v11.5h-11.5zM112.2 1270.7h11.5v11.5h-11.5zM145.9 1278.8h11.5v11.5h-11.5zM130.8 1245h11.5v11.5h-11.5zM116.8 1249.7h11.5v11.5h-11.5zM87.2 1256.2h11.5v11.5h-11.5zM93.2 1266.2h11.5v11.5h-11.5zM104.2 1260.2h11.5v11.5h-11.5zM125.2 1256.2h11.5v11.5h-11.5zM134.2 1252.2h11.5v11.5h-11.5zM151.8 1278.2h11.5v11.5h-11.5zM154.8 1278.8h11.5v11.5h-11.5zM157.8 1279.2h11.5v11.5h-11.5zM145.6 1279.4h11.5v11.5h-11.5zM147 1281h11.5v11.5h-11.5zM148.4 1282.3h11.5v11.5h-11.5zM149.9 1283h11.5v11.5h-11.5zM151.3 1283.3h11.5v11.5h-11.5zM152.7 1283.3h11.5v11.5h-11.5zM154.2 1283.3h11.5v11.5h-11.5zM155.6 1283.5h11.5v11.5h-11.5zM157 1283.3h11.5v11.5h-11.5zM158.5 1283.4h11.5v11.5h-11.5zM159.9 1283h11.5v11.5h-11.5zM161.4 1282.1h11.5v11.5h-11.5zM162.8 1281.7h11.5v11.5h-11.5zM164.2 1280.3h11.5v11.5h-11.5zM165.7 1279.5h11.5v11.5h-11.5zM167.1 1278.5h11.5v11.5h-11.5zM168.5 1277.2h11.5v11.5h-11.5zM170 1276.5h11.5v11.5h-11.5zM171.4 1275.7h11.5v11.5h-11.5zM172.8 1274.7h11.5v11.5h-11.5zM174.3 1273.8h11.5v11.5h-11.5zM175.7 1273.3h11.5v11.5h-11.5zM177.1 1272.1h11.5v11.5h-11.5zM178.6 1271.4h11.5v11.5h-11.5zM180 1270.3h11.5v11.5h-11.5zM181.5 1269.4h11.5v11.5h-11.5zM182.9 1268.1h11.5v11.5h-11.5zM184.3 1267h11.5v11.5h-11.5zM185.8 1265.6h11.5v11.5h-11.5zM187.2 1263.4h11.5v11.5h-11.5zM188.6 1260.3h11.5v11.5h-11.5zM190.1 1256.5h11.5v11.5h-11.5zM191.5 1252.1h11.5v11.5h-11.5zM192.9 1246.4h11.5v11.5h-11.5zM194.4 1240.3h11.5v11.5h-11.5zM195.8 1233.8h11.5v11.5h-11.5zM197.2 1226.5h11.5v11.5h-11.5zM198.7 1218h11.5v11.5h-11.5zM200.1 1208.4h11.5v11.5h-11.5zM201.6 1199.9h11.5v11.5h-11.5zM203 1192.1h11.5v11.5h-11.5zM204.4 1184.4h11.5v11.5h-11.5zM205.9 1176.8h11.5v11.5h-11.5zM207.3 1170.2h11.5v11.5h-11.5zM208.7 1166.1h11.5v11.5h-11.5zM210.2 1164h11.5v11.5h-11.5zM211.6 1163.8h11.5v11.5h-11.5zM213 1165.6h11.5v11.5h-11.5zM214.5 1169.4h11.5v11.5h-11.5zM215.9 1174.7h11.5v11.5h-11.5zM217.3 1181.5h11.5v11.5h-11.5zM218.8 1188h11.5v11.5h-11.5zM220.2 1195.5h11.5v11.5h-11.5zM221.7 1201.3h11.5v11.5h-11.5zM223.1 1205.1h11.5v11.5h-11.5zM224.5 1207.5h11.5v11.5h-11.5zM226 1209h11.5v11.5h-11.5zM227.4 1210.3h11.5v11.5h-11.5zM228.8 1211.1h11.5v11.5h-11.5zM230.3 1211.9h11.5v11.5h-11.5zM231.7 1212.2h11.5v11.5h-11.5zM233.1 1212.3h11.5v11.5h-11.5zM234.6 1212.6h11.5v11.5h-11.5zM236 1212.9h11.5v11.5h-11.5zM237.4 1213.1h11.5v11.5h-11.5zM238.9 1213.4h11.5v11.5h-11.5zM240.3 1213.6h11.5v11.5h-11.5zM241.8 1213.7h11.5v11.5h-11.5zM243.2 1214.3h11.5v11.5h-11.5zM244.6 1214.5h11.5v11.5h-11.5zM246.1 1215.4h11.5v11.5h-11.5zM247.5 1216.1h11.5v11.5h-11.5zM248.9 1216.7h11.5v11.5h-11.5zM250.4 1218.3h11.5v11.5h-11.5zM251.8 1219.5h11.5v11.5h-11.5zM253.2 1220.7h11.5v11.5h-11.5zM254.7 1222.4h11.5v11.5h-11.5zM256.1 1224h11.5v11.5h-11.5zM257.5 1225.3h11.5v11.5h-11.5zM259 1228.1h11.5v11.5h-11.5zM260.4 1230.9h11.5v11.5h-11.5zM261.9 1234.2h11.5v11.5h-11.5zM263.3 1237.9h11.5v11.5h-11.5zM264.7 1241.2h11.5v11.5h-11.5zM266.2 1244.9h11.5v11.5h-11.5zM267.6 1248.8h11.5v11.5h-11.5zM269 1253h11.5v11.5h-11.5zM270.5 1257.4h11.5v11.5h-11.5zM271.9 1261.5h11.5v11.5h-11.5zM273.3 1266h11.5v11.5h-11.5zM274.8 1270.6h11.5v11.5h-11.5zM276.2 1274.6h11.5v11.5h-11.5zM277.6 1278.8h11.5v11.5h-11.5zM279.1 1282.6h11.5v11.5h-11.5zM280.5 1287h11.5v11.5h-11.5zM282 1291.2h11.5v11.5h-11.5zM283.4 1295.3h11.5v11.5h-11.5zM284.8 1298.9h11.5v11.5h-11.5zM286.3 1302.7h11.5v11.5h-11.5zM287.7 1305.7h11.5v11.5h-11.5zM289.1 1308.6h11.5v11.5h-11.5zM290.6 1311.3h11.5v11.5h-11.5zM292 1314.1h11.5v11.5h-11.5zM293.4 1316.4h11.5v11.5h-11.5zM294.9 1319.1h11.5v11.5h-11.5zM296.3 1321.4h11.5v11.5h-11.5zM297.7 1323.6h11.5v11.5h-11.5zM299.2 1325.7h11.5v11.5h-11.5zM300.6 1327.7h11.5v11.5h-11.5zM302.1 1329.7h11.5v11.5h-11.5zM303.5 1331.4h11.5v11.5h-11.5zM304.9 1333h11.5v11.5h-11.5zM306.4 1334.5h11.5v11.5h-11.5zM307.8 1335.7h11.5v11.5h-11.5zM309.2 1337.2h11.5v11.5h-11.5zM310.7 1338.1h11.5v11.5h-11.5zM312.1 1338.8h11.5v11.5h-11.5zM313.5 1340.4h11.5v11.5h-11.5zM315 1341.1h11.5v11.5h-11.5zM316.4 1341.7h11.5v11.5h-11.5zM317.8 1342.6h11.5v11.5h-11.5zM319.3 1343.1h11.5v11.5h-11.5zM320.7 1344.2h11.5v11.5h-11.5zM322.2 1344.3h11.5v11.5h-11.5zM323.6 1344.2h11.5v11.5h-11.5zM325 1345h11.5v11.5h-11.5zM326.5 1345.1h11.5v11.5h-11.5zM327.9 1345.9h11.5v11.5h-11.5zM329.3 1345.5h11.5v11.5h-11.5zM330.8 1345.5h11.5v11.5h-11.5zM332.2 1346.2h11.5v11.5h-11.5zM333.6 1346.3h11.5v11.5h-11.5zM335.1 1346.5h11.5v11.5h-11.5zM336.5 1346.4h11.5v11.5h-11.5zM337.9 1347.1h11.5v11.5h-11.5zM339.4 1347.5h11.5v11.5h-11.5zM340.8 1347h11.5v11.5h-11.5zM342.3 1347.8h11.5v11.5h-11.5zM343.7 1347.7h11.5v11.5h-11.5zM345.1 1348.5h11.5v11.5h-11.5zM346.6 1348.4h11.5v11.5h-11.5zM348 1348.6h11.5v11.5h-11.5zM349.4 1349.2h11.5v11.5h-11.5zM350.9 1349.4h11.5v11.5h-11.5zM352.3 1349.5h11.5v11.5h-11.5zM353.7 1350.1h11.5v11.5h-11.5zM355.2 1350.3h11.5v11.5h-11.5zM356.6 1350.4h11.5v11.5h-11.5zM358 1351.6h11.5v11.5h-11.5zM359.5 1351.5h11.5v11.5h-11.5zM360.9 1351.9h11.5v11.5h-11.5zM362.4 1352.5h11.5v11.5h-11.5zM363.8 1352.6h11.5v11.5h-11.5zM365.2 1353.1h11.5v11.5h-11.5zM366.7 1353.7h11.5v11.5h-11.5zM368.1 1354.2h11.5v11.5h-11.5zM369.5 1354.9h11.5v11.5h-11.5zM371 1355.6h11.5v11.5h-11.5zM372.4 1355.9h11.5v11.5h-11.5zM373.8 1356.7h11.5v11.5h-11.5zM375.3 1357.3h11.5v11.5h-11.5zM376.7 1357.6h11.5v11.5h-11.5zM378.2 1358.5h11.5v11.5h-11.5zM379.6 1358.9h11.5v11.5h-11.5zM381 1359.9h11.5v11.5h-11.5zM382.5 1360.4h11.5v11.5h-11.5zM383.9 1361h11.5v11.5h-11.5zM385.3 1361.4h11.5v11.5h-11.5zM386.8 1362.4h11.5v11.5h-11.5zM388.2 1362.9h11.5v11.5h-11.5zM389.6 1363.9h11.5v11.5h-11.5zM391.1 1364.5h11.5v11.5h-11.5zM392.5 1365.1h11.5v11.5h-11.5zM393.9 1366.2h11.5v11.5h-11.5zM395.4 1366.9h11.5v11.5h-11.5zM396.8 1367.4h11.5v11.5h-11.5zM398.3 1368.4h11.5v11.5h-11.5zM399.7 1368.9h11.5v11.5h-11.5zM401.1 1369.6h11.5v11.5h-11.5zM402.6 1370.4h11.5v11.5h-11.5zM404 1370.9h11.5v11.5h-11.5zM405.4 1371.6h11.5v11.5h-11.5zM406.9 1372.3h11.5v11.5h-11.5zM408.3 1373.3h11.5v11.5h-11.5zM409.7 1373.9h11.5v11.5h-11.5zM411.2 1374.2h11.5v11.5h-11.5zM412.6 1375.3h11.5v11.5h-11.5zM414 1375.6h11.5v11.5h-11.5zM415.5 1376.5h11.5v11.5h-11.5zM416.9 1377.3h11.5v11.5h-11.5zM418.4 1378h11.5v11.5h-11.5zM419.8 1379.2h11.5v11.5h-11.5zM421.2 1379.5h11.5v11.5h-11.5zM422.7 1380.1h11.5v11.5h-11.5zM424.1 1381.4h11.5v11.5h-11.5zM425.5 1381.9h11.5v11.5h-11.5zM427 1382.7h11.5v11.5h-11.5zM428.4 1383h11.5v11.5h-11.5zM429.8 1384.7h11.5v11.5h-11.5zM431.3 1385.5h11.5v11.5h-11.5zM432.7 1386.4h11.5v11.5h-11.5zM434.1 1387.3h11.5v11.5h-11.5zM435.6 1388.3h11.5v11.5h-11.5zM437 1388.9h11.5v11.5h-11.5zM438.5 1390.1h11.5v11.5h-11.5zM439.9 1390.7h11.5v11.5h-11.5zM441.3 1391.7h11.5v11.5h-11.5zM442.8 1393h11.5v11.5h-11.5zM444.2 1393.8h11.5v11.5h-11.5zM445.6 1394.4h11.5v11.5h-11.5zM447.1 1395.7h11.5v11.5h-11.5zM448.5 1396.5h11.5v11.5h-11.5zM449.9 1397.3h11.5v11.5h-11.5zM451.4 1398.4h11.5v11.5h-11.5zM452.8 1399.1h11.5v11.5h-11.5zM454.2 1399.7h11.5v11.5h-11.5zM455.7 1400.6h11.5v11.5h-11.5zM457.1 1402h11.5v11.5h-11.5zM458.6 1402.1h11.5v11.5h-11.5zM460 1403.3h11.5v11.5h-11.5zM461.4 1404.1h11.5v11.5h-11.5zM462.9 1404.9h11.5v11.5h-11.5zM464.3 1405.3h11.5v11.5h-11.5zM465.7 1406.2h11.5v11.5h-11.5zM467.2 1407h11.5v11.5h-11.5zM468.6 1407.8h11.5v11.5h-11.5zM470 1408.2h11.5v11.5h-11.5zM471.5 1408.8h11.5v11.5h-11.5zM472.9 1409.8h11.5v11.5h-11.5zM474.3 1410.5h11.5v11.5h-11.5zM475.8 1410.9h11.5v11.5h-11.5zM477.2 1411.3h11.5v11.5h-11.5zM478.7 1412.1h11.5v11.5h-11.5zM480.1 1412.6h11.5v11.5h-11.5zM481.5 1413.3h11.5v11.5h-11.5zM483 1413.4h11.5v11.5h-11.5zM484.4 1414.2h11.5v11.5h-11.5zM485.8 1414.6h11.5v11.5h-11.5zM487.3 1414.9h11.5v11.5h-11.5zM488.7 1415.7h11.5v11.5h-11.5zM490.1 1416.2h11.5v11.5h-11.5zM491.6 1416.5h11.5v11.5h-11.5zM493 1417.2h11.5v11.5h-11.5zM494.4 1417.3h11.5v11.5h-11.5zM495.9 1418h11.5v11.5h-11.5zM497.3 1418.5h11.5v11.5h-11.5zM498.8 1419h11.5v11.5h-11.5zM500.2 1419.5h11.5v11.5h-11.5zM501.6 1419.5h11.5v11.5h-11.5zM503.1 1419.9h11.5v11.5h-11.5zM504.5 1420.6h11.5v11.5h-11.5zM505.9 1421.1h11.5v11.5h-11.5zM507.4 1421.8h11.5v11.5h-11.5zM508.8 1421.9h11.5v11.5h-11.5zM510.2 1422h11.5v11.5h-11.5zM511.7 1422.7h11.5v11.5h-11.5zM513.1 1422.7h11.5v11.5h-11.5zM514.5 1423h11.5v11.5h-11.5zM516 1424.1h11.5v11.5h-11.5zM517.4 1424h11.5v11.5h-11.5zM518.9 1424.5h11.5v11.5h-11.5zM520.3 1424.8h11.5v11.5h-11.5zM521.7 1425.4h11.5v11.5h-11.5zM523.2 1425.4h11.5v11.5h-11.5zM524.6 1425.9h11.5v11.5h-11.5zM526 1425.8h11.5v11.5h-11.5zM527.5 1426h11.5v11.5h-11.5zM528.9 1426.9h11.5v11.5h-11.5zM530.3 1427.2h11.5v11.5h-11.5zM531.8 1427.4h11.5v11.5h-11.5zM533.2 1427.6h11.5v11.5h-11.5zM534.6 1427.9h11.5v11.5h-11.5zM536.1 1428.1h11.5v11.5h-11.5zM537.5 1428.8h11.5v11.5h-11.5zM539 1429h11.5v11.5h-11.5zM540.4 1429.2h11.5v11.5h-11.5zM541.8 1429.5h11.5v11.5h-11.5zM543.3 1429.9h11.5v11.5h-11.5zM544.7 1430h11.5v11.5h-11.5zM546.1 1430.3h11.5v11.5h-11.5zM547.6 1430.1h11.5v11.5h-11.5zM549 1430.6h11.5v11.5h-11.5zM550.4 1431.1h11.5v11.5h-11.5zM551.9 1430.7h11.5v11.5h-11.5zM553.3 1431h11.5v11.5h-11.5zM554.7 1431.3h11.5v11.5h-11.5zM556.2 1431.5h11.5v11.5h-11.5zM557.6 1431.6h11.5v11.5h-11.5zM559.1 1431.3h11.5v11.5h-11.5zM560.5 1431.8h11.5v11.5h-11.5zM561.9 1431.6h11.5v11.5h-11.5zM563.4 1431.8h11.5v11.5h-11.5zM564.8 1432.2h11.5v11.5h-11.5zM566.2 1432.1h11.5v11.5h-11.5zM567.7 1432.4h11.5v11.5h-11.5zM569.1 1433h11.5v11.5h-11.5zM570.5 1432.6h11.5v11.5h-11.5zM572 1432.7h11.5v11.5h-11.5zM573.4 1432.4h11.5v11.5h-11.5zM574.8 1432.6h11.5v11.5h-11.5zM576.3 1432.6h11.5v11.5h-11.5zM577.7 1432.8h11.5v11.5h-11.5zM579.2 1432.7h11.5v11.5h-11.5zM580.6 1432.9h11.5v11.5h-11.5zM582 1433.1h11.5v11.5h-11.5zM583.5 1433h11.5v11.5h-11.5zM584.9 1433h11.5v11.5h-11.5zM586.3 1433h11.5v11.5h-11.5zM587.8 1433.5h11.5v11.5h-11.5zM589.2 1433.5h11.5v11.5h-11.5zM590.6 1433.7h11.5v11.5h-11.5zM592.1 1433.8h11.5v11.5h-11.5zM593.5 1433.6h11.5v11.5h-11.5zM594.9 1433.9h11.5v11.5h-11.5zM596.4 1433.5h11.5v11.5h-11.5zM597.8 1434.3h11.5v11.5h-11.5zM599.3 1434.2h11.5v11.5h-11.5zM600.7 1433.9h11.5v11.5h-11.5zM602.1 1433.8h11.5v11.5h-11.5zM603.6 1434.2h11.5v11.5h-11.5zM605 1433.8h11.5v11.5h-11.5zM606.4 1434.1h11.5v11.5h-11.5zM607.9 1434.5h11.5v11.5h-11.5zM609.3 1434.5h11.5v11.5h-11.5zM610.7 1434.4h11.5v11.5h-11.5zM612.2 1434.8h11.5v11.5h-11.5zM613.6 1434.5h11.5v11.5h-11.5zM615 1434.9h11.5v11.5h-11.5zM616.5 1434.8h11.5v11.5h-11.5zM617.9 1434.8h11.5v11.5h-11.5zM619.4 1435.2h11.5v11.5h-11.5zM620.8 1435h11.5v11.5h-11.5zM622.2 1435.6h11.5v11.5h-11.5zM623.7 1435.2h11.5v11.5h-11.5zM625.1 1435.7h11.5v11.5h-11.5zM626.5 1435.2h11.5v11.5h-11.5zM628 1435.6h11.5v11.5h-11.5zM629.4 1435.3h11.5v11.5h-11.5zM630.8 1435.3h11.5v11.5h-11.5zM632.3 1435.7h11.5v11.5h-11.5zM633.7 1435.8h11.5v11.5h-11.5zM635.1 1435.5h11.5v11.5h-11.5zM636.6 1436h11.5v11.5h-11.5zM638 1435.6h11.5v11.5h-11.5zM639.5 1435.7h11.5v11.5h-11.5zM640.9 1435.5h11.5v11.5h-11.5zM642.3 1435.1h11.5v11.5h-11.5zM643.8 1433.8h11.5v11.5h-11.5zM645.2 1433.1h11.5v11.5h-11.5zM646.6 1431h11.5v11.5h-11.5zM648.1 1427.6h11.5v11.5h-11.5zM649.5 1422.4h11.5v11.5h-11.5zM650.9 1416h11.5v11.5h-11.5zM652.4 1409.3h11.5v11.5h-11.5zM653.8 1400.7h11.5v11.5h-11.5zM655.2 1390.2h11.5v11.5h-11.5z"/>
<path fill="none" stroke="#ff0000" stroke-width="12.8" stroke-linecap="round" d="M141.8 1222.1h0M127.8 1244.9h0M143.6 1241.4h0M137.1 1260.1h0M144.1 1267.7h0M138.9 1271.8h0M124.9 1276.4h0M140 1291.6h0M90.4 1292.8h0M92.2 1302.1h0M101.5 1306.8h0M130.7 1302.7h0M123.7 1306.8h0M132.5 1310.3h0M99.8 1318.5h0M107.4 1317.3h0M102.7 1325.5h0M121.4 1323.1h0M113.2 1312.6h0M147.1 1319.6h0M145.9 1336h0M95.5 1296h0M97 1310h0M105 1300h0M110 1306h0M117 1304h0M119 1314h0M127 1312h0M88.5 1300h0M94 1314h0M151.3 1341.2h0M152.7 1342h0M154.2 1343h0M155.6 1342.9h0M157.1 1342.9h0M158.5 1343.2h0M159.9 1343h0M161.4 1342.8h0M162.8 1342.6h0M164.2 1342.3h0M165.7 1342.2h0M167.1 1342.2h0M168.5 1342h0M170 1341.9h0M171.4 1341.7h0M172.8 1341.4h0M174.3 1341.2h0M175.7 1340.8h0M177.2 1340.4h0M178.6 1340.5h0M180 1340.3h0M181.5 1340.3h0M182.9 1340.2h0M184.3 1340h0M185.8 1339.9h0M187.2 1340h0M188.6 1339.8h0M190.1 1339.4h0M191.5 1339.2h0M192.9 1338.5h0M194.4 1337.5h0M195.8 1335.8h0M197.3 1333h0M198.7 1327.7h0M200.1 1321.6h0M201.6 1314.4h0M203 1306.8h0M204.4 1298.7h0M205.9 1291.6h0M207.3 1283.7h0M208.7 1276.3h0M210.2 1268.8h0M211.6 1261.8h0M213 1256.1h0M214.5 1251.4h0M215.9 1248h0M217.4 1244.5h0M218.8 1242h0M220.2 1240.4h0M221.7 1239.1h0M223.1 1238.2h0M224.5 1237.2h0M226 1237.3h0M227.4 1237.1h0M228.8 1238.1h0M230.3 1238.4h0M231.7 1239.9h0M233.1 1241.1h0M234.6 1242h0M236 1243.3h0M237.5 1245.1h0M238.9 1246.5h0M240.3 1248.5h0M241.8 1251.1h0M243.2 1253.6h0M244.6 1256.2h0M246.1 1258.3h0M247.5 1260.8h0M248.9 1263.1h0M250.4 1264.9h0M251.8 1266.9h0M253.2 1269.2h0M254.7 1271.3h0M256.1 1272.7h0M257.6 1274.1h0M259 1276h0M260.4 1277.7h0M261.9 1279.3h0M263.3 1280.9h0M264.7 1282.1h0M266.2 1283.3h0M267.6 1284.8h0M269 1285.8h0M270.5 1287.2h0M271.9 1288.2h0M273.3 1289.9h0M274.8 1290.6h0M276.2 1291.2h0M277.7 1292.1h0M279.1 1293.2h0M280.5 1293.8h0M282 1294.8h0M283.4 1295.6h0M284.8 1296.7h0M286.3 1297.2h0M287.7 1297.9h0M289.1 1298.6h0M290.6 1299.4h0M292 1300.4h0M293.4 1301.2h0M294.9 1302.3h0M296.3 1302.8h0M297.8 1304h0M299.2 1304.7h0M300.6 1305.5h0M302.1 1306h0M303.5 1307h0M304.9 1308.3h0M306.4 1309.3h0M307.8 1309.9h0M309.2 1310.9h0M310.7 1311.5h0M312.1 1312.3h0M313.5 1313.1h0M315 1314.2h0M316.4 1314.9h0M317.9 1315.6h0M319.3 1316.4h0M320.7 1317.3h0M322.2 1318.1h0M323.6 1318.6h0M325 1319.9h0M326.5 1320.4h0M327.9 1321.1h0M329.3 1322.2h0M330.8 1322.9h0M332.2 1323.5h0M333.6 1324.5h0M335.1 1325h0M336.5 1325.9h0M338 1326.4h0M339.4 1327.9h0M340.8 1328.1h0M342.3 1329.5h0M343.7 1330h0M345.1 1330.8h0M346.6 1331.8h0M348 1332.7h0M349.4 1333.6h0M350.9 1334.7h0M352.3 1335.2h0M353.7 1336.2h0M355.2 1336.7h0M356.6 1337.8h0M358.1 1338.5h0M359.5 1339.2h0M360.9 1340.1h0M362.4 1340.9h0M363.8 1341.7h0M365.2 1342.6h0M366.7 1343.2h0M368.1 1343.9h0M369.5 1345h0M371 1345.3h0M372.4 1346.3h0M373.8 1347.5h0M375.3 1347.5h0M376.7 1348.7h0M378.2 1349.7h0M379.6 1350h0M381 1351.6h0M382.5 1351.3h0M383.9 1352.9h0M385.3 1353.6h0M386.8 1354.2h0M388.2 1354.6h0M389.6 1355.4h0M391.1 1355.8h0M392.5 1356.7h0M394 1356.9h0M395.4 1357.7h0M396.8 1358.5h0M398.3 1358.6h0M399.7 1359.3h0M401.1 1360h0M402.6 1360.2h0M404 1361.3h0M405.4 1361.7h0M406.9 1361.9h0M408.3 1362.7h0M409.7 1363.2h0M411.2 1363.8h0M412.6 1364.5h0M414.1 1365h0M415.5 1365.9h0M416.9 1366.2h0M418.4 1367.1h0M419.8 1367.5h0M421.2 1368.3h0M422.7 1368.6h0M424.1 1369.3h0M425.5 1369.8h0M427 1370.7h0M428.4 1371.4h0M429.8 1372.3h0M431.3 1372.7h0M432.7 1373.1h0M434.2 1373.6h0M435.6 1374.2h0M437 1374.6h0M438.5 1375.3h0M439.9 1375.6h0M441.3 1375.6h0M442.8 1376h0M444.2 1376.8h0M445.6 1376.9h0M447.1 1377.2h0M448.5 1377.7h0M449.9 1377.7h0M451.4 1378h0M452.8 1378.2h0M454.3 1378.1h0M455.7 1378.9h0M457.1 1378.7h0M458.6 1378.9h0M460 1379h0M461.4 1379.4h0M462.9 1379.4h0M464.3 1379.5h0M465.7 1379.3h0M467.2 1379.7h0M468.6 1379.5h0M470 1379.9h0M471.5 1380h0M472.9 1380h0M474.4 1380.5h0M475.8 1380.3h0M477.2 1380.3h0M478.7 1380.3h0M480.1 1380.3h0M481.5 1380.6h0M483 1380.7h0M484.4 1380.2h0M485.8 1380.8h0M487.3 1380.7h0M488.7 1380.8h0M490.1 1380.8h0M491.6 1380.5h0M493 1380.6h0M494.5 1381.2h0M495.9 1381h0M497.3 1380.7h0M498.8 1381.1h0M500.2 1381h0M501.6 1380.8h0M503.1 1380.7h0M504.5 1380.9h0M505.9 1381.4h0M507.4 1381.4h0M508.8 1381.4h0M510.2 1381.5h0M511.7 1381.7h0M513.1 1381.2h0M514.6 1381.6h0M516 1381.6h0M517.4 1381.6h0M518.9 1381.8h0M520.3 1382h0M521.7 1382h0M523.2 1381.9h0M524.6 1382.2h0M526 1382.8h0M527.5 1382.2h0M528.9 1382.2h0M530.3 1382.7h0M531.8 1382.8h0M533.2 1382.9h0M534.7 1382.6h0M536.1 1383.1h0M537.5 1382.8h0M539 1382.8h0M540.4 1383h0M541.8 1383.1h0M543.3 1383.3h0M544.7 1383.4h0M546.1 1383.3h0M547.6 1383.6h0M549 1383.4h0M550.4 1383.7h0M551.9 1383.3h0M553.3 1383.3h0M554.8 1383.9h0M556.2 1383.5h0M557.6 1383.8h0M559.1 1383.9h0M560.5 1383.9h0M561.9 1384h0M563.4 1384.5h0M564.8 1383.8h0M566.2 1384.5h0M567.7 1384.9h0M569.1 1384.5h0M570.5 1384.6h0M572 1384.9h0M573.4 1385.2h0M574.9 1384.6h0M576.3 1385h0M577.7 1385h0M579.2 1385.3h0M580.6 1385.3h0M582 1385.5h0M583.5 1385.3h0M584.9 1385.5h0M586.3 1385.5h0M587.8 1385.6h0M589.2 1385.8h0M590.6 1385.9h0M592.1 1385.8h0M593.5 1386.4h0M595 1386.2h0M596.4 1386h0M597.8 1386.6h0M599.3 1386.3h0M600.7 1386.7h0M602.1 1386.7h0M603.6 1386.9h0M605 1387h0M606.4 1387h0M607.9 1387.2h0M609.3 1387.8h0M610.7 1387.1h0M612.2 1387.7h0M613.6 1388.1h0M615.1 1388h0M616.5 1388.2h0M617.9 1389.1h0M619.4 1388.8h0M620.8 1389.3h0M622.2 1389h0M623.7 1388.7h0M625.1 1388.6h0M626.5 1388.4h0M628 1388.3h0M629.4 1387.9h0M630.8 1387.7h0M632.3 1387.6h0M633.7 1388h0M635.2 1388.1h0M636.6 1388.2h0M638 1388.8h0M639.5 1389.5h0M640.9 1389.8h0M642.3 1390.2h0M643.8 1390.2h0M645.2 1390.3h0M646.6 1390.2h0M648.1 1389.8h0M649.5 1388.6h0M650.9 1386.5h0M652.4 1382h0M653.8 1378.4h0M655.3 1373.1h0M656.7 1368.2h0M658.1 1363.7h0M659.6 1359.4h0M661 1357.5h0"/>
<path fill="#00ff00" d="M138.3 1206.7l7.2 13.4h-14.4zM117 1228.8l7.2 13.4h-14.4zM95.4 1233.9l7.2 13.4h-14.4zM135.4 1237l7.2 13.4h-14.4zM141.8 1235.9l7.2 13.4h-14.4zM92.2 1245.8l7.2 13.4h-14.4zM118.2 1250.8l7.2 13.4h-14.4zM129.9 1251l7.2 13.4h-14.4zM98 1259.8l7.2 13.4h-14.4zM115.5 1262.7l7.2 13.4h-14.4zM88.7 1264.5l7.2 13.4h-14.4zM127.2 1269.7l7.2 13.4h-14.4zM101.5 1273.8l7.2 13.4h-14.4zM113.8 1277.9l7.2 13.4h-14.4zM133 1280.3l7.2 13.4h-14.4zM143 1280.8l7.2 13.4h-14.4zM99.2 1283.2l7.2 13.4h-14.4zM107.4 1285.5l7.2 13.4h-14.4zM119 1283.2l7.2 13.4h-14.4zM111.4 1294.8l7.2 13.4h-14.4zM121.4 1309.4l7.2 13.4h-14.4zM147.1 1304.8l7.2 13.4h-14.4zM147.1 1317l7.2 13.4h-14.4zM145.9 1331.6l7.2 13.4h-14.4zM90 1255.3l7.2 13.4h-14.4zM105 1268.3l7.2 13.4h-14.4zM124 1277.3l7.2 13.4h-14.4zM138.3 1211.9l7.2 13.4h-14.4zM95.1 1245.3l7.2 13.4h-14.4zM91.5 1255.3l7.2 13.4h-14.4zM104 1277.3l7.2 13.4h-14.4zM110 1283.3l7.2 13.4h-14.4zM127 1278.3l7.2 13.4h-14.4zM122 1285.3l7.2 13.4h-14.4zM131 1284.3l7.2 13.4h-14.4zM103.5 1284.3l7.2 13.4h-14.4zM116 1285.3l7.2 13.4h-14.4zM151.3 1339.9l7.2 13.4h-14.4zM152.7 1340.4l7.2 13.4h-14.4zM154.2 1339.9l7.2 13.4h-14.4zM155.6 1340.7l7.2 13.4h-14.4zM157.1 1340.4l7.2 13.4h-14.4zM158.5 1340.7l7.2 13.4h-14.4zM159.9 1340.1l7.2 13.4h-14.4zM161.4 1340.7l7.2 13.4h-14.4zM162.8 1340.6l7.2 13.4h-14.4zM164.2 1340.9l7.2 13.4h-14.4zM165.7 1340.8l7.2 13.4h-14.4zM167.1 1340.6l7.2 13.4h-14.4zM168.5 1341l7.2 13.4h-14.4zM170 1340.9l7.2 13.4h-14.4zM171.4 1340.9l7.2 13.4h-14.4zM172.8 1341l7.2 13.4h-14.4zM174.3 1341l7.2 13.4h-14.4zM175.7 1340.7l7.2 13.4h-14.4zM177.2 1340.4l7.2 13.4h-14.4zM178.6 1340.4l7.2 13.4h-14.4zM180 1340.9l7.2 13.4h-14.4zM181.5 1340.7l7.2 13.4h-14.4zM182.9 1340.4l7.2 13.4h-14.4zM184.3 1340.2l7.2 13.4h-14.4zM185.8 1340.1l7.2 13.4h-14.4zM187.2 1339.9l7.2 13.4h-14.4zM188.6 1339.6l7.2 13.4h-14.4zM190.1 1339.3l7.2 13.4h-14.4zM191.5 1339.5l7.2 13.4h-14.4zM192.9 1338.6l7.2 13.4h-14.4zM194.4 1337.5l7.2 13.4h-14.4zM195.8 1335.9l7.2 13.4h-14.4zM197.3 1333.6l7.2 13.4h-14.4zM198.7 1329.9l7.2 13.4h-14.4zM200.1 1326l7.2 13.4h-14.4zM201.6 1320.6l7.2 13.4h-14.4zM203 1313.8l7.2 13.4h-14.4zM204.4 1306.5l7.2 13.4h-14.4zM205.9 1298.8l7.2 13.4h-14.4zM207.3 1291.6l7.2 13.4h-14.4zM208.7 1283.8l7.2 13.4h-14.4zM210.2 1276.6l7.2 13.4h-14.4zM211.6 1268.2l7.2 13.4h-14.4zM213 1260.7l7.2 13.4h-14.4zM214.5 1253l7.2 13.4h-14.4zM215.9 1244.9l7.2 13.4h-14.4zM217.4 1237.3l7.2 13.4h-14.4zM218.8 1230.5l7.2 13.4h-14.4zM220.2 1224.4l7.2 13.4h-14.4zM221.7 1219l7.2 13.4h-14.4zM223.1 1214.3l7.2 13.4h-14.4zM224.5 1210.2l7.2 13.4h-14.4zM226 1206.6l7.2 13.4h-14.4zM227.4 1204l7.2 13.4h-14.4zM228.8 1202.6l7.2 13.4h-14.4zM230.3 1202.1l7.2 13.4h-14.4zM231.7 1202.6l7.2 13.4h-14.4zM233.1 1203.5l7.2 13.4h-14.4zM234.6 1204.9l7.2 13.4h-14.4zM236 1207.3l7.2 13.4h-14.4zM237.5 1209.9l7.2 13.4h-14.4zM238.9 1212.4l7.2 13.4h-14.4zM240.3 1215l7.2 13.4h-14.4zM241.8 1218l7.2 13.4h-14.4zM243.2 1220.5l7.2 13.4h-14.4zM244.6 1223.3l7.2 13.4h-14.4zM246.1 1225.5l7.2 13.4h-14.4zM247.5 1228.2l7.2 13.4h-14.4zM248.9 1230.9l7.2 13.4h-14.4zM250.4 1233.4l7.2 13.4h-14.4zM251.8 1235.7l7.2 13.4h-14.4zM253.2 1238.1l7.2 13.4h-14.4zM254.7 1240.4l7.2 13.4h-14.4zM256.1 1242.3l7.2 13.4h-14.4zM257.6 1244.5l7.2 13.4h-14.4zM259 1246.4l7.2 13.4h-14.4zM260.4 1247.6l7.2 13.4h-14.4zM261.9 1249.5l7.2 13.4h-14.4zM263.3 1250.3l7.2 13.4h-14.4zM264.7 1251.3l7.2 13.4h-14.4zM266.2 1252.1l7.2 13.4h-14.4zM267.6 1252.6l7.2 13.4h-14.4zM269 1253.4l7.2 13.4h-14.4zM270.5 1253.7l7.2 13.4h-14.4zM271.9 1254.3l7.2 13.4h-14.4zM273.3 1254.2l7.2 13.4h-14.4zM274.8 1254.3l7.2 13.4h-14.4zM276.2 1254.3l7.2 13.4h-14.4zM277.7 1254.2l7.2 13.4h-14.4zM279.1 1254.7l7.2 13.4h-14.4zM280.5 1254.8l7.2 13.4h-14.4zM282 1255.5l7.2 13.4h-14.4zM283.4 1255.7l7.2 13.4h-14.4zM284.8 1256.7l7.2 13.4h-14.4zM286.3 1257.4l7.2 13.4h-14.4zM287.7 1258.3l7.2 13.4h-14.4zM289.1 1259.2l7.2 13.4h-14.4zM290.6 1260.4l7.2 13.4h-14.4zM292 1261.9l7.2 13.4h-14.4zM293.4 1263.5l7.2 13.4h-14.4zM294.9 1264.7l7.2 13.4h-14.4zM296.3 1266.7l7.2 13.4h-14.4zM297.8 1268.9l7.2 13.4h-14.4zM299.2 1270.2l7.2 13.4h-14.4zM300.6 1272.1l7.2 13.4h-14.4zM302.1 1273.9l7.2 13.4h-14.4zM303.5 1275.6l7.2 13.4h-14.4zM304.9 1277.9l7.2 13.4h-14.4zM306.4 1279.4l7.2 13.4h-14.4zM307.8 1281.2l7.2 13.4h-14.4zM309.2 1283.2l7.2 13.4h-14.4zM310.7 1285l7.2 13.4h-14.4zM312.1 1286l7.2 13.4h-14.4zM313.5 1288l7.2 13.4h-14.4zM315 1289.4l7.2 13.4h-14.4zM316.4 1290.7l7.2 13.4h-14.4zM317.9 1292l7.2 13.4h-14.4zM319.3 1293.1l7.2 13.4h-14.4zM320.7 1294.6l7.2 13.4h-14.4zM322.2 1295.5l7.2 13.4h-14.4zM323.6 1296.3l7.2 13.4h-14.4zM325 1297.3l7.2 13.4h-14.4zM326.5 1298l7.2 13.4h-14.4zM327.9 1298.6l7.2 13.4h-14.4zM329.3 1299.2l7.2 13.4h-14.4zM330.8 1300.1l7.2 13.4h-14.4zM332.2 1300.3l7.2 13.4h-14.4zM333.6 1300.6l7.2 13.4h-14.4zM335.1 1300.8l7.2 13.4h-14.4zM336.5 1301.2l7.2 13.4h-14.4zM338 1301.3l7.2 13.4h-14.4zM339.4 1301.7l7.2 13.4h-14.4zM340.8 1301.9l7.2 13.4h-14.4zM342.3 1301.5l7.2 13.4h-14.4zM343.7 1302l7.2 13.4h-14.4zM345.1 1302.2l7.2 13.4h-14.4zM346.6 1302.1l7.2 13.4h-14.4zM348 1301.9l7.2 13.4h-14.4zM349.4 1302.3l7.2 13.4h-14.4zM350.9 1301.8l7.2 13.4h-14.4zM352.3 1301.6l7.2 13.4h-14.4zM353.7 1301.6l7.2 13.4h-14.4zM355.2 1301.6l7.2 13.4h-14.4zM356.6 1301.7l7.2 13.4h-14.4zM358.1 1301.5l7.2 13.4h-14.4zM359.5 1301.1l7.2 13.4h-14.4zM360.9 1300.5l7.2 13.4h-14.4zM362.4 1300.3l7.2 13.4h-14.4zM363.8 1299.9l7.2 13.4h-14.4zM365.2 1299.7l7.2 13.4h-14.4zM366.7 1299.1l7.2 13.4h-14.4zM368.1 1299.1l7.2 13.4h-14.4zM369.5 1298.9l7.2 13.4h-14.4zM371 1298.4l7.2 13.4h-14.4zM372.4 1298.2l7.2 13.4h-14.4zM373.8 1297.6l7.2 13.4h-14.4zM375.3 1297.1l7.2 13.4h-14.4zM376.7 1296.9l7.2 13.4h-14.4zM378.2 1296.9l7.2 13.4h-14.4zM379.6 1296.5l7.2 13.4h-14.4zM381 1295.9l7.2 13.4h-14.4zM382.5 1295.9l7.2 13.4h-14.4zM383.9 1295.2l7.2 13.4h-14.4zM385.3 1295.3l7.2 13.4h-14.4zM386.8 1294.8l7.2 13.4h-14.4zM388.2 1294.4l7.2 13.4h-14.4zM389.6 1294.4l7.2 13.4h-14.4zM391.1 1293.8l7.2 13.4h-14.4zM392.5 1293.7l7.2 13.4h-14.4zM394 1293.4l7.2 13.4h-14.4zM395.4 1293.7l7.2 13.4h-14.4zM396.8 1293.6l7.2 13.4h-14.4zM398.3 1293.7l7.2 13.4h-14.4zM399.7 1293.7l7.2 13.4h-14.4zM401.1 1294.3l7.2 13.4h-14.4zM402.6 1294.1l7.2 13.4h-14.4zM404 1294.3l7.2 13.4h-14.4zM405.4 1295.1l7.2 13.4h-14.4zM406.9 1295.5l7.2 13.4h-14.4zM408.3 1295.8l7.2 13.4h-14.4zM409.7 1295.8l7.2 13.4h-14.4zM411.2 1296.6l7.2 13.4h-14.4zM412.6 1297.4l7.2 13.4h-14.4zM414.1 1297.9l7.2 13.4h-14.4zM415.5 1299.1l7.2 13.4h-14.4zM416.9 1299.4l7.2 13.4h-14.4zM418.4 1300.9l7.2 13.4h-14.4zM419.8 1301.6l7.2 13.4h-14.4zM421.2 1303l7.2 13.4h-14.4zM422.7 1303.6l7.2 13.4h-14.4zM424.1 1304.7l7.2 13.4h-14.4zM425.5 1305.3l7.2 13.4h-14.4zM427 1306l7.2 13.4h-14.4zM428.4 1307l7.2 13.4h-14.4zM429.8 1308l7.2 13.4h-14.4zM431.3 1308.8l7.2 13.4h-14.4zM432.7 1310.2l7.2 13.4h-14.4zM434.2 1311.1l7.2 13.4h-14.4zM435.6 1311.8l7.2 13.4h-14.4zM437 1312.5l7.2 13.4h-14.4zM438.5 1313.7l7.2 13.4h-14.4zM439.9 1314.6l7.2 13.4h-14.4zM441.3 1316.1l7.2 13.4h-14.4zM442.8 1316.9l7.2 13.4h-14.4zM444.2 1318l7.2 13.4h-14.4zM445.6 1318.9l7.2 13.4h-14.4zM447.1 1319.7l7.2 13.4h-14.4zM448.5 1321.1l7.2 13.4h-14.4zM449.9 1322.2l7.2 13.4h-14.4zM451.4 1323.6l7.2 13.4h-14.4zM452.8 1324.7l7.2 13.4h-14.4zM454.3 1325.7l7.2 13.4h-14.4zM455.7 1326.9l7.2 13.4h-14.4zM457.1 1328.5l7.2 13.4h-14.4zM458.6 1329.2l7.2 13.4h-14.4zM460 1330.4l7.2 13.4h-14.4zM461.4 1331.7l7.2 13.4h-14.4zM462.9 1332.8l7.2 13.4h-14.4zM464.3 1334.1l7.2 13.4h-14.4zM465.7 1335.5l7.2 13.4h-14.4zM467.2 1337l7.2 13.4h-14.4zM468.6 1337.5l7.2 13.4h-14.4zM470 1339.1l7.2 13.4h-14.4zM471.5 1340.4l7.2 13.4h-14.4zM472.9 1341.5l7.2 13.4h-14.4zM474.4 1342.7l7.2 13.4h-14.4zM475.8 1343.8l7.2 13.4h-14.4zM477.2 1345.3l7.2 13.4h-14.4zM478.7 1346.1l7.2 13.4h-14.4zM480.1 1347.3l7.2 13.4h-14.4zM481.5 1348.4l7.2 13.4h-14.4zM483 1349.6l7.2 13.4h-14.4zM484.4 1350.6l7.2 13.4h-14.4zM485.8 1352l7.2 13.4h-14.4zM487.3 1352.9l7.2 13.4h-14.4zM488.7 1354l7.2 13.4h-14.4zM490.1 1355l7.2 13.4h-14.4zM491.6 1355.8l7.2 13.4h-14.4zM493 1356.9l7.2 13.4h-14.4zM494.5 1357.8l7.2 13.4h-14.4zM495.9 1359l7.2 13.4h-14.4zM497.3 1359.8l7.2 13.4h-14.4zM498.8 1360.7l7.2 13.4h-14.4zM500.2 1361.9l7.2 13.4h-14.4zM501.6 1362.8l7.2 13.4h-14.4zM503.1 1363.3l7.2 13.4h-14.4zM504.5 1364.9l7.2 13.4h-14.4zM505.9 1365.4l7.2 13.4h-14.4zM507.4 1366.2l7.2 13.4h-14.4zM508.8 1367.3l7.2 13.4h-14.4zM510.2 1367.9l7.2 13.4h-14.4zM511.7 1368.6l7.2 13.4h-14.4zM513.1 1369.9l7.2 13.4h-14.4zM514.6 1370l7.2 13.4h-14.4zM516 1370.9l7.2 13.4h-14.4zM517.4 1371.9l7.2 13.4h-14.4zM518.9 1372.2l7.2 13.4h-14.4zM520.3 1373.1l7.2 13.4h-14.4zM521.7 1373.9l7.2 13.4h-14.4zM523.2 1375l7.2 13.4h-14.4zM524.6 1375.1l7.2 13.4h-14.4zM526 1375.9l7.2 13.4h-14.4zM527.5 1376.6l7.2 13.4h-14.4zM528.9 1377.1l7.2 13.4h-14.4zM530.3 1377.4l7.2 13.4h-14.4zM531.8 1378.2l7.2 13.4h-14.4zM533.2 1378.6l7.2 13.4h-14.4zM534.7 1379.1l7.2 13.4h-14.4zM536.1 1379.6l7.2 13.4h-14.4zM537.5 1379.9l7.2 13.4h-14.4zM539 1380.1l7.2 13.4h-14.4zM540.4 1380.4l7.2 13.4h-14.4zM541.8 1380.5l7.2 13.4h-14.4zM543.3 1380.9l7.2 13.4h-14.4zM544.7 1381.3l7.2 13.4h-14.4zM546.1 1381.4l7.2 13.4h-14.4zM547.6 1381.8l7.2 13.4h-14.4zM549 1381.8l7.2 13.4h-14.4zM550.4 1382.6l7.2 13.4h-14.4zM551.9 1383l7.2 13.4h-14.4zM553.3 1382.7l7.2 13.4h-14.4zM554.8 1383.1l7.2 13.4h-14.4zM556.2 1383.3l7.2 13.4h-14.4zM557.6 1383.8l7.2 13.4h-14.4zM559.1 1383.9l7.2 13.4h-14.4zM560.5 1384.1l7.2 13.4h-14.4zM561.9 1384.3l7.2 13.4h-14.4zM563.4 1384.6l7.2 13.4h-14.4zM564.8 1384.6l7.2 13.4h-14.4zM566.2 1385.2l7.2 13.4h-14.4zM567.7 1385.2l7.2 13.4h-14.4zM569.1 1385.6l7.2 13.4h-14.4zM570.5 1385.8l7.2 13.4h-14.4zM572 1386.3l7.2 13.4h-14.4zM573.4 1386.3l7.2 13.4h-14.4zM574.9 1386.7l7.2 13.4h-14.4zM576.3 1386.6l7.2 13.4h-14.4zM577.7 1387.1l7.2 13.4h-14.4zM579.2 1387.2l7.2 13.4h-14.4zM580.6 1387.6l7.2 13.4h-14.4zM582 1387.8l7.2 13.4h-14.4zM583.5 1388.2l7.2 13.4h-14.4zM584.9 1387.9l7.2 13.4h-14.4zM586.3 1388.6l7.2 13.4h-14.4zM587.8 1388.5l7.2 13.4h-14.4zM589.2 1389.3l7.2 13.4h-14.4zM590.6 1388.9l7.2 13.4h-14.4zM592.1 1389.3l7.2 13.4h-14.4zM593.5 1389.5l7.2 13.4h-14.4zM595 1390.4l7.2 13.4h-14.4zM596.4 1390.1l7.2 13.4h-14.4zM597.8 1390.6l7.2 13.4h-14.4zM599.3 1390.8l7.2 13.4h-14.4zM600.7 1390.8l7.2 13.4h-14.4zM602.1 1391.4l7.2 13.4h-14.4zM603.6 1391.8l7.2 13.4h-14.4zM605 1391.9l7.2 13.4h-14.4zM606.4 1392.4l7.2 13.4h-14.4zM607.9 1392.4l7.2 13.4h-14.4zM609.3 1392.7l7.2 13.4h-14.4zM610.7 1392.9l7.2 13.4h-14.4zM612.2 1393.3l7.2 13.4h-14.4zM613.6 1393.8l7.2 13.4h-14.4zM615.1 1393.8l7.2 13.4h-14.4zM616.5 1394l7.2 13.4h-14.4zM617.9 1394l7.2 13.4h-14.4zM619.4 1394.2l7.2 13.4h-14.4zM620.8 1394.9l7.2 13.4h-14.4zM622.2 1394.6l7.2 13.4h-14.4zM623.7 1394.9l7.2 13.4h-14.4zM625.1 1395.2l7.2 13.4h-14.4zM626.5 1395.3l7.2 13.4h-14.4zM628 1396l7.2 13.4h-14.4zM629.4 1395.3l7.2 13.4h-14.4zM630.8 1396l7.2 13.4h-14.4zM632.3 1396.3l7.2 13.4h-14.4zM633.7 1396.1l7.2 13.4h-14.4zM635.2 1396.3l7.2 13.4h-14.4zM636.6 1396.7l7.2 13.4h-14.4zM638 1397.1l7.2 13.4h-14.4zM639.5 1396.7l7.2 13.4h-14.4zM640.9 1396.7l7.2 13.4h-14.4zM642.3 1397.3l7.2 13.4h-14.4zM643.8 1397.4l7.2 13.4h-14.4zM645.2 1397.1l7.2 13.4h-14.4zM646.6 1396.8l7.2 13.4h-14.4zM648.1 1397.5l7.2 13.4h-14.4zM649.5 1396.7l7.2 13.4h-14.4zM650.9 1396.1l7.2 13.4h-14.4zM652.4 1394.1l7.2 13.4h-14.4zM653.8 1391.3l7.2 13.4h-14.4zM655.3 1387l7.2 13.4h-14.4zM656.7 1382l7.2 13.4h-14.4zM658.1 1374l7.2 13.4h-14.4zM659.6 1365l7.2 13.4h-14.4zM661 1359.1l7.2 13.4h-14.4z"/>
</g>
<g stroke="#000" stroke-width="2.1" fill="none" stroke-linecap="butt">
<path d="M86.7 1082.8V1494.8M85.7 1493.8H662.0M661.0 1494.8V1082.8M662.0 1083.8H85.7"/>
<path d="M86.7 1493.8v11M230.3 1493.8v11M373.8 1493.8v11M517.4 1493.8v11M661 1493.8v11M158.5 1493.8v6M302.1 1493.8v6M445.6 1493.8v6M589.2 1493.8v6M86.7 1493.8h-11M86.7 1393.8h-11M86.7 1293.8h-11M86.7 1193.7h-11M86.7 1093.7h-11M86.7 1443.8h-6M86.7 1343.8h-6M86.7 1243.7h-6M86.7 1143.7h-6"/></g>
<g font-family="Liberation Serif, serif" font-size="20" fill="#000">
<text x="86.7" y="1525.8" text-anchor="middle">200</text>
<text x="230.3" y="1525.8" text-anchor="middle">400</text>
<text x="373.8" y="1525.8" text-anchor="middle">600</text>
<text x="517.4" y="1525.8" text-anchor="middle">800</text>
<text x="661" y="1525.8" text-anchor="middle">1000</text>
<text x="70.3" y="1500.6" text-anchor="end">0</text>
<text x="70.3" y="1400.6" text-anchor="end">4</text>
<text x="70.3" y="1300.5" text-anchor="end">8</text>
<text x="70.3" y="1200.5" text-anchor="end">12</text>
<text x="70.3" y="1100.5" text-anchor="end">16</text>
</g>
<rect x="551" y="1112.3" width="83" height="73" fill="#fff" stroke="#333" stroke-width="1"/>
<rect x="566.9" y="1120.5" width="11.6" height="11.6" fill="#000"/>
<circle cx="572.8" cy="1150.5" r="6.5" fill="#ff0000"/>
<path d="M572.8 1167l7.7 13.1h-15.4z" fill="#00ff00"/>
<g font-family="Liberation Serif, serif" font-size="19" fill="#000"><text x="600.6" y="1131.7">Z02</text><text x="600.6" y="1156.4">Z03</text><text x="600.6" y="1180.9">Z01</text></g>
<text x="290.6" y="1552" font-family="Liberation Serif, serif" font-size="24" fill="#000" textLength="168" lengthAdjust="spacingAndGlyphs">Wavelength (nm)</text>
<text transform="translate(38.8,1290) rotate(-90)" text-anchor="middle" font-family="Liberation Serif, serif" font-size="24" fill="#000">R (%)</text>
<text x="0.8" y="1096.4" font-family="Liberation Serif, serif" font-weight="bold" font-size="35" fill="#000">(c)</text>
</svg>
</body></html>
